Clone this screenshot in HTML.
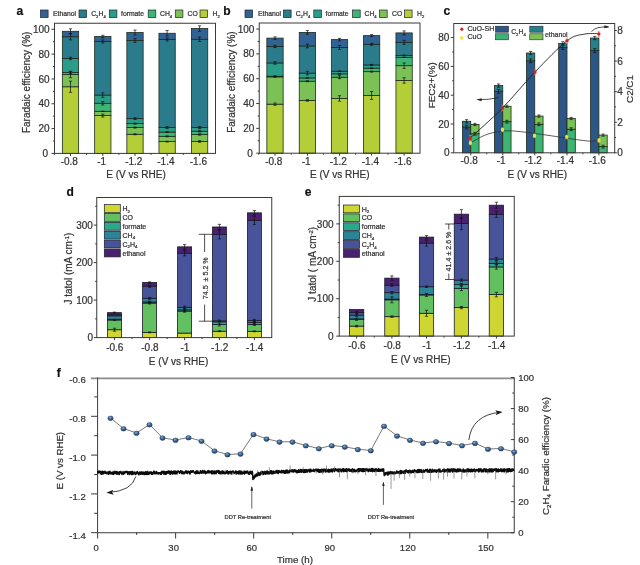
<!DOCTYPE html>
<html lang="en"><head><meta charset="utf-8"><title>Figure</title>
<style>
html,body{margin:0;padding:0;background:#fff;}
body{width:640px;height:565px;overflow:hidden;font-family:'Liberation Sans', Arial, sans-serif;}
svg{display:block;}
svg text{font-family:"Liberation Sans", Arial, sans-serif;stroke:#333;stroke-width:0.22px;paint-order:stroke;}
svg{filter:blur(0.4px);}
</style></head><body>
<svg width="640" height="565" viewBox="0 0 640 565">
<rect width="640" height="565" fill="#ffffff"/>
<rect x="62.35" y="86.76" width="16.30" height="66.64" fill="#b4ce38" stroke="#1d2b1d" stroke-width="0.8"/>
<rect x="62.35" y="74.60" width="16.30" height="12.16" fill="#7bc155" stroke="#1d2b1d" stroke-width="0.8"/>
<rect x="62.35" y="72.49" width="16.30" height="2.11" fill="#3fb574" stroke="#1d2b1d" stroke-width="0.8"/>
<rect x="62.35" y="58.46" width="16.30" height="14.02" fill="#2a9d89" stroke="#1d2b1d" stroke-width="0.8"/>
<rect x="62.35" y="36.75" width="16.30" height="21.72" fill="#2a7b8c" stroke="#1d2b1d" stroke-width="0.8"/>
<rect x="62.35" y="31.29" width="16.30" height="5.46" fill="#316294" stroke="#1d2b1d" stroke-width="0.8"/>
<line x1="70.50" y1="81.17" x2="70.50" y2="92.34" stroke="#111" stroke-width="0.7" />
<line x1="68.90" y1="81.17" x2="72.10" y2="81.17" stroke="#111" stroke-width="0.7" />
<line x1="68.90" y1="92.34" x2="72.10" y2="92.34" stroke="#111" stroke-width="0.7" />
<line x1="70.50" y1="71.49" x2="70.50" y2="77.70" stroke="#111" stroke-width="0.7" />
<line x1="68.90" y1="71.49" x2="72.10" y2="71.49" stroke="#111" stroke-width="0.7" />
<line x1="68.90" y1="77.70" x2="72.10" y2="77.70" stroke="#111" stroke-width="0.7" />
<line x1="70.50" y1="71.25" x2="70.50" y2="73.73" stroke="#111" stroke-width="0.7" />
<line x1="68.90" y1="71.25" x2="72.10" y2="71.25" stroke="#111" stroke-width="0.7" />
<line x1="68.90" y1="73.73" x2="72.10" y2="73.73" stroke="#111" stroke-width="0.7" />
<line x1="70.50" y1="57.22" x2="70.50" y2="59.70" stroke="#111" stroke-width="0.7" />
<line x1="68.90" y1="57.22" x2="72.10" y2="57.22" stroke="#111" stroke-width="0.7" />
<line x1="68.90" y1="59.70" x2="72.10" y2="59.70" stroke="#111" stroke-width="0.7" />
<line x1="70.50" y1="33.64" x2="70.50" y2="39.85" stroke="#111" stroke-width="0.7" />
<line x1="68.90" y1="33.64" x2="72.10" y2="33.64" stroke="#111" stroke-width="0.7" />
<line x1="68.90" y1="39.85" x2="72.10" y2="39.85" stroke="#111" stroke-width="0.7" />
<line x1="70.50" y1="28.80" x2="70.50" y2="33.77" stroke="#111" stroke-width="0.7" />
<line x1="68.90" y1="28.80" x2="72.10" y2="28.80" stroke="#111" stroke-width="0.7" />
<line x1="68.90" y1="33.77" x2="72.10" y2="33.77" stroke="#111" stroke-width="0.7" />
<rect x="94.65" y="115.55" width="16.30" height="37.85" fill="#b4ce38" stroke="#1d2b1d" stroke-width="0.8"/>
<rect x="94.65" y="111.33" width="16.30" height="4.22" fill="#7bc155" stroke="#1d2b1d" stroke-width="0.8"/>
<rect x="94.65" y="103.26" width="16.30" height="8.07" fill="#3fb574" stroke="#1d2b1d" stroke-width="0.8"/>
<rect x="94.65" y="95.07" width="16.30" height="8.19" fill="#2a9d89" stroke="#1d2b1d" stroke-width="0.8"/>
<rect x="94.65" y="41.46" width="16.30" height="53.61" fill="#2a7b8c" stroke="#1d2b1d" stroke-width="0.8"/>
<rect x="94.65" y="36.50" width="16.30" height="4.96" fill="#316294" stroke="#1d2b1d" stroke-width="0.8"/>
<line x1="102.80" y1="114.06" x2="102.80" y2="117.04" stroke="#111" stroke-width="0.7" />
<line x1="101.20" y1="114.06" x2="104.40" y2="114.06" stroke="#111" stroke-width="0.7" />
<line x1="101.20" y1="117.04" x2="104.40" y2="117.04" stroke="#111" stroke-width="0.7" />
<line x1="102.80" y1="111.33" x2="102.80" y2="111.33" stroke="#111" stroke-width="0.7" />
<line x1="101.20" y1="111.33" x2="104.40" y2="111.33" stroke="#111" stroke-width="0.7" />
<line x1="101.20" y1="111.33" x2="104.40" y2="111.33" stroke="#111" stroke-width="0.7" />
<line x1="102.80" y1="101.53" x2="102.80" y2="105.00" stroke="#111" stroke-width="0.7" />
<line x1="101.20" y1="101.53" x2="104.40" y2="101.53" stroke="#111" stroke-width="0.7" />
<line x1="101.20" y1="105.00" x2="104.40" y2="105.00" stroke="#111" stroke-width="0.7" />
<line x1="102.80" y1="92.84" x2="102.80" y2="97.31" stroke="#111" stroke-width="0.7" />
<line x1="101.20" y1="92.84" x2="104.40" y2="92.84" stroke="#111" stroke-width="0.7" />
<line x1="101.20" y1="97.31" x2="104.40" y2="97.31" stroke="#111" stroke-width="0.7" />
<line x1="102.80" y1="39.97" x2="102.80" y2="42.95" stroke="#111" stroke-width="0.7" />
<line x1="101.20" y1="39.97" x2="104.40" y2="39.97" stroke="#111" stroke-width="0.7" />
<line x1="101.20" y1="42.95" x2="104.40" y2="42.95" stroke="#111" stroke-width="0.7" />
<line x1="102.80" y1="35.26" x2="102.80" y2="37.74" stroke="#111" stroke-width="0.7" />
<line x1="101.20" y1="35.26" x2="104.40" y2="35.26" stroke="#111" stroke-width="0.7" />
<line x1="101.20" y1="37.74" x2="104.40" y2="37.74" stroke="#111" stroke-width="0.7" />
<rect x="126.85" y="134.29" width="16.30" height="19.11" fill="#b4ce38" stroke="#1d2b1d" stroke-width="0.8"/>
<rect x="126.85" y="127.59" width="16.30" height="6.70" fill="#7bc155" stroke="#1d2b1d" stroke-width="0.8"/>
<rect x="126.85" y="123.62" width="16.30" height="3.97" fill="#3fb574" stroke="#1d2b1d" stroke-width="0.8"/>
<rect x="126.85" y="118.65" width="16.30" height="4.96" fill="#2a9d89" stroke="#1d2b1d" stroke-width="0.8"/>
<rect x="126.85" y="40.47" width="16.30" height="78.18" fill="#2a7b8c" stroke="#1d2b1d" stroke-width="0.8"/>
<rect x="126.85" y="32.53" width="16.30" height="7.94" fill="#316294" stroke="#1d2b1d" stroke-width="0.8"/>
<line x1="135.00" y1="133.79" x2="135.00" y2="134.78" stroke="#111" stroke-width="0.7" />
<line x1="133.40" y1="133.79" x2="136.60" y2="133.79" stroke="#111" stroke-width="0.7" />
<line x1="133.40" y1="134.78" x2="136.60" y2="134.78" stroke="#111" stroke-width="0.7" />
<line x1="135.00" y1="127.09" x2="135.00" y2="128.08" stroke="#111" stroke-width="0.7" />
<line x1="133.40" y1="127.09" x2="136.60" y2="127.09" stroke="#111" stroke-width="0.7" />
<line x1="133.40" y1="128.08" x2="136.60" y2="128.08" stroke="#111" stroke-width="0.7" />
<line x1="135.00" y1="123.12" x2="135.00" y2="124.11" stroke="#111" stroke-width="0.7" />
<line x1="133.40" y1="123.12" x2="136.60" y2="123.12" stroke="#111" stroke-width="0.7" />
<line x1="133.40" y1="124.11" x2="136.60" y2="124.11" stroke="#111" stroke-width="0.7" />
<line x1="135.00" y1="117.78" x2="135.00" y2="119.52" stroke="#111" stroke-width="0.7" />
<line x1="133.40" y1="117.78" x2="136.60" y2="117.78" stroke="#111" stroke-width="0.7" />
<line x1="133.40" y1="119.52" x2="136.60" y2="119.52" stroke="#111" stroke-width="0.7" />
<line x1="135.00" y1="38.61" x2="135.00" y2="42.33" stroke="#111" stroke-width="0.7" />
<line x1="133.40" y1="38.61" x2="136.60" y2="38.61" stroke="#111" stroke-width="0.7" />
<line x1="133.40" y1="42.33" x2="136.60" y2="42.33" stroke="#111" stroke-width="0.7" />
<line x1="135.00" y1="30.04" x2="135.00" y2="35.01" stroke="#111" stroke-width="0.7" />
<line x1="133.40" y1="30.04" x2="136.60" y2="30.04" stroke="#111" stroke-width="0.7" />
<line x1="133.40" y1="35.01" x2="136.60" y2="35.01" stroke="#111" stroke-width="0.7" />
<rect x="158.95" y="141.61" width="16.30" height="11.79" fill="#b4ce38" stroke="#1d2b1d" stroke-width="0.8"/>
<rect x="158.95" y="136.34" width="16.30" height="5.27" fill="#7bc155" stroke="#1d2b1d" stroke-width="0.8"/>
<rect x="158.95" y="132.05" width="16.30" height="4.28" fill="#3fb574" stroke="#1d2b1d" stroke-width="0.8"/>
<rect x="158.95" y="127.59" width="16.30" height="4.47" fill="#2a9d89" stroke="#1d2b1d" stroke-width="0.8"/>
<rect x="158.95" y="39.48" width="16.30" height="88.11" fill="#2a7b8c" stroke="#1d2b1d" stroke-width="0.8"/>
<rect x="158.95" y="33.27" width="16.30" height="6.21" fill="#316294" stroke="#1d2b1d" stroke-width="0.8"/>
<line x1="167.10" y1="141.24" x2="167.10" y2="141.98" stroke="#111" stroke-width="0.7" />
<line x1="165.50" y1="141.24" x2="168.70" y2="141.24" stroke="#111" stroke-width="0.7" />
<line x1="165.50" y1="141.98" x2="168.70" y2="141.98" stroke="#111" stroke-width="0.7" />
<line x1="167.10" y1="135.84" x2="167.10" y2="136.83" stroke="#111" stroke-width="0.7" />
<line x1="165.50" y1="135.84" x2="168.70" y2="135.84" stroke="#111" stroke-width="0.7" />
<line x1="165.50" y1="136.83" x2="168.70" y2="136.83" stroke="#111" stroke-width="0.7" />
<line x1="167.10" y1="131.56" x2="167.10" y2="132.55" stroke="#111" stroke-width="0.7" />
<line x1="165.50" y1="131.56" x2="168.70" y2="131.56" stroke="#111" stroke-width="0.7" />
<line x1="165.50" y1="132.55" x2="168.70" y2="132.55" stroke="#111" stroke-width="0.7" />
<line x1="167.10" y1="126.59" x2="167.10" y2="128.58" stroke="#111" stroke-width="0.7" />
<line x1="165.50" y1="126.59" x2="168.70" y2="126.59" stroke="#111" stroke-width="0.7" />
<line x1="165.50" y1="128.58" x2="168.70" y2="128.58" stroke="#111" stroke-width="0.7" />
<line x1="167.10" y1="37.99" x2="167.10" y2="40.97" stroke="#111" stroke-width="0.7" />
<line x1="165.50" y1="37.99" x2="168.70" y2="37.99" stroke="#111" stroke-width="0.7" />
<line x1="165.50" y1="40.97" x2="168.70" y2="40.97" stroke="#111" stroke-width="0.7" />
<line x1="167.10" y1="30.54" x2="167.10" y2="36.00" stroke="#111" stroke-width="0.7" />
<line x1="165.50" y1="30.54" x2="168.70" y2="30.54" stroke="#111" stroke-width="0.7" />
<line x1="165.50" y1="36.00" x2="168.70" y2="36.00" stroke="#111" stroke-width="0.7" />
<rect x="191.45" y="141.49" width="16.30" height="11.91" fill="#b4ce38" stroke="#1d2b1d" stroke-width="0.8"/>
<rect x="191.45" y="134.54" width="16.30" height="6.95" fill="#7bc155" stroke="#1d2b1d" stroke-width="0.8"/>
<rect x="191.45" y="131.31" width="16.30" height="3.23" fill="#3fb574" stroke="#1d2b1d" stroke-width="0.8"/>
<rect x="191.45" y="127.59" width="16.30" height="3.72" fill="#2a9d89" stroke="#1d2b1d" stroke-width="0.8"/>
<rect x="191.45" y="39.23" width="16.30" height="88.36" fill="#2a7b8c" stroke="#1d2b1d" stroke-width="0.8"/>
<rect x="191.45" y="28.56" width="16.30" height="10.67" fill="#316294" stroke="#1d2b1d" stroke-width="0.8"/>
<line x1="199.60" y1="140.74" x2="199.60" y2="142.23" stroke="#111" stroke-width="0.7" />
<line x1="198.00" y1="140.74" x2="201.20" y2="140.74" stroke="#111" stroke-width="0.7" />
<line x1="198.00" y1="142.23" x2="201.20" y2="142.23" stroke="#111" stroke-width="0.7" />
<line x1="199.60" y1="133.92" x2="199.60" y2="135.16" stroke="#111" stroke-width="0.7" />
<line x1="198.00" y1="133.92" x2="201.20" y2="133.92" stroke="#111" stroke-width="0.7" />
<line x1="198.00" y1="135.16" x2="201.20" y2="135.16" stroke="#111" stroke-width="0.7" />
<line x1="199.60" y1="130.69" x2="199.60" y2="131.93" stroke="#111" stroke-width="0.7" />
<line x1="198.00" y1="130.69" x2="201.20" y2="130.69" stroke="#111" stroke-width="0.7" />
<line x1="198.00" y1="131.93" x2="201.20" y2="131.93" stroke="#111" stroke-width="0.7" />
<line x1="199.60" y1="126.59" x2="199.60" y2="128.58" stroke="#111" stroke-width="0.7" />
<line x1="198.00" y1="126.59" x2="201.20" y2="126.59" stroke="#111" stroke-width="0.7" />
<line x1="198.00" y1="128.58" x2="201.20" y2="128.58" stroke="#111" stroke-width="0.7" />
<line x1="199.60" y1="36.99" x2="199.60" y2="41.46" stroke="#111" stroke-width="0.7" />
<line x1="198.00" y1="36.99" x2="201.20" y2="36.99" stroke="#111" stroke-width="0.7" />
<line x1="198.00" y1="41.46" x2="201.20" y2="41.46" stroke="#111" stroke-width="0.7" />
<line x1="199.60" y1="25.83" x2="199.60" y2="31.29" stroke="#111" stroke-width="0.7" />
<line x1="198.00" y1="25.83" x2="201.20" y2="25.83" stroke="#111" stroke-width="0.7" />
<line x1="198.00" y1="31.29" x2="201.20" y2="31.29" stroke="#111" stroke-width="0.7" />
<rect x="54.50" y="23.25" width="161.00" height="130.15" fill="none" stroke="#3a3a3a" stroke-width="1"/>
<line x1="51.50" y1="153.40" x2="54.50" y2="153.40" stroke="#3a3a3a" stroke-width="1" />
<text x="48.10" y="157.00" font-size="10" text-anchor="end" font-weight="normal" fill="#333333" >0</text>
<line x1="52.90" y1="140.99" x2="54.50" y2="140.99" stroke="#3a3a3a" stroke-width="1" />
<line x1="51.50" y1="128.58" x2="54.50" y2="128.58" stroke="#3a3a3a" stroke-width="1" />
<text x="49.70" y="132.18" font-size="10" text-anchor="end" font-weight="normal" fill="#333333" >20</text>
<line x1="52.90" y1="116.17" x2="54.50" y2="116.17" stroke="#3a3a3a" stroke-width="1" />
<line x1="51.50" y1="103.76" x2="54.50" y2="103.76" stroke="#3a3a3a" stroke-width="1" />
<text x="49.70" y="107.36" font-size="10" text-anchor="end" font-weight="normal" fill="#333333" >40</text>
<line x1="52.90" y1="91.35" x2="54.50" y2="91.35" stroke="#3a3a3a" stroke-width="1" />
<line x1="51.50" y1="78.94" x2="54.50" y2="78.94" stroke="#3a3a3a" stroke-width="1" />
<text x="49.70" y="82.54" font-size="10" text-anchor="end" font-weight="normal" fill="#333333" >60</text>
<line x1="52.90" y1="66.53" x2="54.50" y2="66.53" stroke="#3a3a3a" stroke-width="1" />
<line x1="51.50" y1="54.12" x2="54.50" y2="54.12" stroke="#3a3a3a" stroke-width="1" />
<text x="49.70" y="57.72" font-size="10" text-anchor="end" font-weight="normal" fill="#333333" >80</text>
<line x1="52.90" y1="41.71" x2="54.50" y2="41.71" stroke="#3a3a3a" stroke-width="1" />
<line x1="51.50" y1="29.30" x2="54.50" y2="29.30" stroke="#3a3a3a" stroke-width="1" />
<text x="49.70" y="32.90" font-size="10" text-anchor="end" font-weight="normal" fill="#333333" >100</text>
<line x1="70.50" y1="153.40" x2="70.50" y2="155.90" stroke="#3a3a3a" stroke-width="1" />
<text x="69.30" y="165.00" font-size="10" text-anchor="middle" font-weight="normal" fill="#333333" >-0.8</text>
<line x1="86.65" y1="153.40" x2="86.65" y2="154.90" stroke="#3a3a3a" stroke-width="1" />
<line x1="102.80" y1="153.40" x2="102.80" y2="155.90" stroke="#3a3a3a" stroke-width="1" />
<text x="101.60" y="165.00" font-size="10" text-anchor="middle" font-weight="normal" fill="#333333" >-1</text>
<line x1="118.90" y1="153.40" x2="118.90" y2="154.90" stroke="#3a3a3a" stroke-width="1" />
<line x1="135.00" y1="153.40" x2="135.00" y2="155.90" stroke="#3a3a3a" stroke-width="1" />
<text x="133.80" y="165.00" font-size="10" text-anchor="middle" font-weight="normal" fill="#333333" >-1.2</text>
<line x1="151.05" y1="153.40" x2="151.05" y2="154.90" stroke="#3a3a3a" stroke-width="1" />
<line x1="167.10" y1="153.40" x2="167.10" y2="155.90" stroke="#3a3a3a" stroke-width="1" />
<text x="165.90" y="165.00" font-size="10" text-anchor="middle" font-weight="normal" fill="#333333" >-1.4</text>
<line x1="183.35" y1="153.40" x2="183.35" y2="154.90" stroke="#3a3a3a" stroke-width="1" />
<line x1="199.60" y1="153.40" x2="199.60" y2="155.90" stroke="#3a3a3a" stroke-width="1" />
<text x="198.40" y="165.00" font-size="10" text-anchor="middle" font-weight="normal" fill="#333333" >-1.6</text>
<line x1="54.35" y1="153.40" x2="54.35" y2="154.90" stroke="#3a3a3a" stroke-width="1" />
<text x="136.00" y="178.10" font-size="10" text-anchor="middle" font-weight="normal" fill="#333333" >E (V vs RHE)</text>
<text x="30.10" y="82.33" font-size="10" text-anchor="middle" font-weight="normal" fill="#333333" transform="rotate(-90 30.10 82.33)" >Faradaic efficiency (%)</text>
<text x="16.50" y="14.75" font-size="12" text-anchor="start" font-weight="bold" fill="#111" >a</text>
<rect x="40.50" y="10.00" width="7.60" height="7.60" fill="#316294" stroke="#223" stroke-width="0.7"/>
<text x="53.00" y="16.30" font-size="6.8" text-anchor="start" font-weight="normal" fill="#333333" >Ethanol</text>
<rect x="79.00" y="10.00" width="7.60" height="7.60" fill="#2a7b8c" stroke="#223" stroke-width="0.7"/>
<text x="91.20" y="16.30" font-size="6.8" text-anchor="start" font-weight="normal" fill="#333333" >C<tspan dy="1.6" font-size="62%">2</tspan><tspan dy="-1.6">&#8203;</tspan>H<tspan dy="1.6" font-size="62%">4</tspan><tspan dy="-1.6">&#8203;</tspan></text>
<rect x="109.30" y="10.00" width="7.60" height="7.60" fill="#2a9d89" stroke="#223" stroke-width="0.7"/>
<text x="121.00" y="16.30" font-size="6.8" text-anchor="start" font-weight="normal" fill="#333333" >formate</text>
<rect x="148.20" y="10.00" width="7.60" height="7.60" fill="#3fb574" stroke="#223" stroke-width="0.7"/>
<text x="160.00" y="16.30" font-size="6.8" text-anchor="start" font-weight="normal" fill="#333333" >CH<tspan dy="1.6" font-size="62%">4</tspan><tspan dy="-1.6">&#8203;</tspan></text>
<rect x="175.30" y="10.00" width="7.60" height="7.60" fill="#7bc155" stroke="#223" stroke-width="0.7"/>
<text x="187.50" y="16.30" font-size="6.8" text-anchor="start" font-weight="normal" fill="#333333" >CO</text>
<rect x="200.00" y="10.00" width="7.60" height="7.60" fill="#b4ce38" stroke="#223" stroke-width="0.7"/>
<text x="212.50" y="16.30" font-size="6.8" text-anchor="start" font-weight="normal" fill="#333333" >H<tspan dy="1.6" font-size="62%">2</tspan><tspan dy="-1.6">&#8203;</tspan></text>
<rect x="266.85" y="104.16" width="16.30" height="49.04" fill="#b4ce38" stroke="#1d2b1d" stroke-width="0.8"/>
<rect x="266.85" y="76.85" width="16.30" height="27.31" fill="#7bc155" stroke="#1d2b1d" stroke-width="0.8"/>
<rect x="266.85" y="76.23" width="16.30" height="0.62" fill="#3fb574" stroke="#1d2b1d" stroke-width="0.8"/>
<rect x="266.85" y="62.94" width="16.30" height="13.28" fill="#2a9d89" stroke="#1d2b1d" stroke-width="0.8"/>
<rect x="266.85" y="46.43" width="16.30" height="16.51" fill="#2a7b8c" stroke="#1d2b1d" stroke-width="0.8"/>
<rect x="266.85" y="38.11" width="16.30" height="8.32" fill="#316294" stroke="#1d2b1d" stroke-width="0.8"/>
<line x1="275.00" y1="103.04" x2="275.00" y2="105.28" stroke="#111" stroke-width="0.7" />
<line x1="273.40" y1="103.04" x2="276.60" y2="103.04" stroke="#111" stroke-width="0.7" />
<line x1="273.40" y1="105.28" x2="276.60" y2="105.28" stroke="#111" stroke-width="0.7" />
<line x1="275.00" y1="76.48" x2="275.00" y2="77.22" stroke="#111" stroke-width="0.7" />
<line x1="273.40" y1="76.48" x2="276.60" y2="76.48" stroke="#111" stroke-width="0.7" />
<line x1="273.40" y1="77.22" x2="276.60" y2="77.22" stroke="#111" stroke-width="0.7" />
<line x1="275.00" y1="75.85" x2="275.00" y2="76.60" stroke="#111" stroke-width="0.7" />
<line x1="273.40" y1="75.85" x2="276.60" y2="75.85" stroke="#111" stroke-width="0.7" />
<line x1="273.40" y1="76.60" x2="276.60" y2="76.60" stroke="#111" stroke-width="0.7" />
<line x1="275.00" y1="61.70" x2="275.00" y2="64.18" stroke="#111" stroke-width="0.7" />
<line x1="273.40" y1="61.70" x2="276.60" y2="61.70" stroke="#111" stroke-width="0.7" />
<line x1="273.40" y1="64.18" x2="276.60" y2="64.18" stroke="#111" stroke-width="0.7" />
<line x1="275.00" y1="45.31" x2="275.00" y2="47.55" stroke="#111" stroke-width="0.7" />
<line x1="273.40" y1="45.31" x2="276.60" y2="45.31" stroke="#111" stroke-width="0.7" />
<line x1="273.40" y1="47.55" x2="276.60" y2="47.55" stroke="#111" stroke-width="0.7" />
<line x1="275.00" y1="36.87" x2="275.00" y2="39.35" stroke="#111" stroke-width="0.7" />
<line x1="273.40" y1="36.87" x2="276.60" y2="36.87" stroke="#111" stroke-width="0.7" />
<line x1="273.40" y1="39.35" x2="276.60" y2="39.35" stroke="#111" stroke-width="0.7" />
<rect x="299.25" y="100.44" width="16.30" height="52.76" fill="#b4ce38" stroke="#1d2b1d" stroke-width="0.8"/>
<rect x="299.25" y="81.19" width="16.30" height="19.24" fill="#7bc155" stroke="#1d2b1d" stroke-width="0.8"/>
<rect x="299.25" y="77.97" width="16.30" height="3.23" fill="#3fb574" stroke="#1d2b1d" stroke-width="0.8"/>
<rect x="299.25" y="73.12" width="16.30" height="4.84" fill="#2a9d89" stroke="#1d2b1d" stroke-width="0.8"/>
<rect x="299.25" y="45.93" width="16.30" height="27.19" fill="#2a7b8c" stroke="#1d2b1d" stroke-width="0.8"/>
<rect x="299.25" y="32.40" width="16.30" height="13.53" fill="#316294" stroke="#1d2b1d" stroke-width="0.8"/>
<line x1="307.40" y1="99.69" x2="307.40" y2="101.18" stroke="#111" stroke-width="0.7" />
<line x1="305.80" y1="99.69" x2="309.00" y2="99.69" stroke="#111" stroke-width="0.7" />
<line x1="305.80" y1="101.18" x2="309.00" y2="101.18" stroke="#111" stroke-width="0.7" />
<line x1="307.40" y1="80.70" x2="307.40" y2="81.69" stroke="#111" stroke-width="0.7" />
<line x1="305.80" y1="80.70" x2="309.00" y2="80.70" stroke="#111" stroke-width="0.7" />
<line x1="305.80" y1="81.69" x2="309.00" y2="81.69" stroke="#111" stroke-width="0.7" />
<line x1="307.40" y1="77.97" x2="307.40" y2="77.97" stroke="#111" stroke-width="0.7" />
<line x1="305.80" y1="77.97" x2="309.00" y2="77.97" stroke="#111" stroke-width="0.7" />
<line x1="305.80" y1="77.97" x2="309.00" y2="77.97" stroke="#111" stroke-width="0.7" />
<line x1="307.40" y1="71.39" x2="307.40" y2="74.86" stroke="#111" stroke-width="0.7" />
<line x1="305.80" y1="71.39" x2="309.00" y2="71.39" stroke="#111" stroke-width="0.7" />
<line x1="305.80" y1="74.86" x2="309.00" y2="74.86" stroke="#111" stroke-width="0.7" />
<line x1="307.40" y1="44.07" x2="307.40" y2="47.80" stroke="#111" stroke-width="0.7" />
<line x1="305.80" y1="44.07" x2="309.00" y2="44.07" stroke="#111" stroke-width="0.7" />
<line x1="305.80" y1="47.80" x2="309.00" y2="47.80" stroke="#111" stroke-width="0.7" />
<line x1="307.40" y1="30.54" x2="307.40" y2="34.26" stroke="#111" stroke-width="0.7" />
<line x1="305.80" y1="30.54" x2="309.00" y2="30.54" stroke="#111" stroke-width="0.7" />
<line x1="305.80" y1="34.26" x2="309.00" y2="34.26" stroke="#111" stroke-width="0.7" />
<rect x="331.35" y="98.45" width="16.30" height="54.75" fill="#b4ce38" stroke="#1d2b1d" stroke-width="0.8"/>
<rect x="331.35" y="77.22" width="16.30" height="21.23" fill="#7bc155" stroke="#1d2b1d" stroke-width="0.8"/>
<rect x="331.35" y="73.87" width="16.30" height="3.35" fill="#3fb574" stroke="#1d2b1d" stroke-width="0.8"/>
<rect x="331.35" y="71.26" width="16.30" height="2.61" fill="#2a9d89" stroke="#1d2b1d" stroke-width="0.8"/>
<rect x="331.35" y="47.42" width="16.30" height="23.84" fill="#2a7b8c" stroke="#1d2b1d" stroke-width="0.8"/>
<rect x="331.35" y="39.60" width="16.30" height="7.82" fill="#316294" stroke="#1d2b1d" stroke-width="0.8"/>
<line x1="339.50" y1="95.72" x2="339.50" y2="101.18" stroke="#111" stroke-width="0.7" />
<line x1="337.90" y1="95.72" x2="341.10" y2="95.72" stroke="#111" stroke-width="0.7" />
<line x1="337.90" y1="101.18" x2="341.10" y2="101.18" stroke="#111" stroke-width="0.7" />
<line x1="339.50" y1="75.73" x2="339.50" y2="78.71" stroke="#111" stroke-width="0.7" />
<line x1="337.90" y1="75.73" x2="341.10" y2="75.73" stroke="#111" stroke-width="0.7" />
<line x1="337.90" y1="78.71" x2="341.10" y2="78.71" stroke="#111" stroke-width="0.7" />
<line x1="339.50" y1="73.50" x2="339.50" y2="74.24" stroke="#111" stroke-width="0.7" />
<line x1="337.90" y1="73.50" x2="341.10" y2="73.50" stroke="#111" stroke-width="0.7" />
<line x1="337.90" y1="74.24" x2="341.10" y2="74.24" stroke="#111" stroke-width="0.7" />
<line x1="339.50" y1="70.89" x2="339.50" y2="71.63" stroke="#111" stroke-width="0.7" />
<line x1="337.90" y1="70.89" x2="341.10" y2="70.89" stroke="#111" stroke-width="0.7" />
<line x1="337.90" y1="71.63" x2="341.10" y2="71.63" stroke="#111" stroke-width="0.7" />
<line x1="339.50" y1="45.44" x2="339.50" y2="49.41" stroke="#111" stroke-width="0.7" />
<line x1="337.90" y1="45.44" x2="341.10" y2="45.44" stroke="#111" stroke-width="0.7" />
<line x1="337.90" y1="49.41" x2="341.10" y2="49.41" stroke="#111" stroke-width="0.7" />
<line x1="339.50" y1="38.36" x2="339.50" y2="40.84" stroke="#111" stroke-width="0.7" />
<line x1="337.90" y1="38.36" x2="341.10" y2="38.36" stroke="#111" stroke-width="0.7" />
<line x1="337.90" y1="40.84" x2="341.10" y2="40.84" stroke="#111" stroke-width="0.7" />
<rect x="363.45" y="95.47" width="16.30" height="57.73" fill="#b4ce38" stroke="#1d2b1d" stroke-width="0.8"/>
<rect x="363.45" y="71.63" width="16.30" height="23.84" fill="#7bc155" stroke="#1d2b1d" stroke-width="0.8"/>
<rect x="363.45" y="68.16" width="16.30" height="3.48" fill="#3fb574" stroke="#1d2b1d" stroke-width="0.8"/>
<rect x="363.45" y="64.93" width="16.30" height="3.23" fill="#2a9d89" stroke="#1d2b1d" stroke-width="0.8"/>
<rect x="363.45" y="44.32" width="16.30" height="20.61" fill="#2a7b8c" stroke="#1d2b1d" stroke-width="0.8"/>
<rect x="363.45" y="35.63" width="16.30" height="8.69" fill="#316294" stroke="#1d2b1d" stroke-width="0.8"/>
<line x1="371.60" y1="91.50" x2="371.60" y2="99.44" stroke="#111" stroke-width="0.7" />
<line x1="370.00" y1="91.50" x2="373.20" y2="91.50" stroke="#111" stroke-width="0.7" />
<line x1="370.00" y1="99.44" x2="373.20" y2="99.44" stroke="#111" stroke-width="0.7" />
<line x1="371.60" y1="71.14" x2="371.60" y2="72.13" stroke="#111" stroke-width="0.7" />
<line x1="370.00" y1="71.14" x2="373.20" y2="71.14" stroke="#111" stroke-width="0.7" />
<line x1="370.00" y1="72.13" x2="373.20" y2="72.13" stroke="#111" stroke-width="0.7" />
<line x1="371.60" y1="68.16" x2="371.60" y2="68.16" stroke="#111" stroke-width="0.7" />
<line x1="370.00" y1="68.16" x2="373.20" y2="68.16" stroke="#111" stroke-width="0.7" />
<line x1="370.00" y1="68.16" x2="373.20" y2="68.16" stroke="#111" stroke-width="0.7" />
<line x1="371.60" y1="64.43" x2="371.60" y2="65.43" stroke="#111" stroke-width="0.7" />
<line x1="370.00" y1="64.43" x2="373.20" y2="64.43" stroke="#111" stroke-width="0.7" />
<line x1="370.00" y1="65.43" x2="373.20" y2="65.43" stroke="#111" stroke-width="0.7" />
<line x1="371.60" y1="43.33" x2="371.60" y2="45.31" stroke="#111" stroke-width="0.7" />
<line x1="370.00" y1="43.33" x2="373.20" y2="43.33" stroke="#111" stroke-width="0.7" />
<line x1="370.00" y1="45.31" x2="373.20" y2="45.31" stroke="#111" stroke-width="0.7" />
<line x1="371.60" y1="34.64" x2="371.60" y2="36.62" stroke="#111" stroke-width="0.7" />
<line x1="370.00" y1="34.64" x2="373.20" y2="34.64" stroke="#111" stroke-width="0.7" />
<line x1="370.00" y1="36.62" x2="373.20" y2="36.62" stroke="#111" stroke-width="0.7" />
<rect x="395.95" y="80.45" width="16.30" height="72.75" fill="#b4ce38" stroke="#1d2b1d" stroke-width="0.8"/>
<rect x="395.95" y="65.67" width="16.30" height="14.77" fill="#7bc155" stroke="#1d2b1d" stroke-width="0.8"/>
<rect x="395.95" y="57.36" width="16.30" height="8.32" fill="#3fb574" stroke="#1d2b1d" stroke-width="0.8"/>
<rect x="395.95" y="55.37" width="16.30" height="1.99" fill="#2a9d89" stroke="#1d2b1d" stroke-width="0.8"/>
<rect x="395.95" y="42.33" width="16.30" height="13.04" fill="#2a7b8c" stroke="#1d2b1d" stroke-width="0.8"/>
<rect x="395.95" y="32.90" width="16.30" height="9.44" fill="#316294" stroke="#1d2b1d" stroke-width="0.8"/>
<line x1="404.10" y1="77.72" x2="404.10" y2="83.18" stroke="#111" stroke-width="0.7" />
<line x1="402.50" y1="77.72" x2="405.70" y2="77.72" stroke="#111" stroke-width="0.7" />
<line x1="402.50" y1="83.18" x2="405.70" y2="83.18" stroke="#111" stroke-width="0.7" />
<line x1="404.10" y1="62.94" x2="404.10" y2="68.41" stroke="#111" stroke-width="0.7" />
<line x1="402.50" y1="62.94" x2="405.70" y2="62.94" stroke="#111" stroke-width="0.7" />
<line x1="402.50" y1="68.41" x2="405.70" y2="68.41" stroke="#111" stroke-width="0.7" />
<line x1="404.10" y1="57.36" x2="404.10" y2="57.36" stroke="#111" stroke-width="0.7" />
<line x1="402.50" y1="57.36" x2="405.70" y2="57.36" stroke="#111" stroke-width="0.7" />
<line x1="402.50" y1="57.36" x2="405.70" y2="57.36" stroke="#111" stroke-width="0.7" />
<line x1="404.10" y1="55.00" x2="404.10" y2="55.74" stroke="#111" stroke-width="0.7" />
<line x1="402.50" y1="55.00" x2="405.70" y2="55.00" stroke="#111" stroke-width="0.7" />
<line x1="402.50" y1="55.74" x2="405.70" y2="55.74" stroke="#111" stroke-width="0.7" />
<line x1="404.10" y1="40.35" x2="404.10" y2="44.32" stroke="#111" stroke-width="0.7" />
<line x1="402.50" y1="40.35" x2="405.70" y2="40.35" stroke="#111" stroke-width="0.7" />
<line x1="402.50" y1="44.32" x2="405.70" y2="44.32" stroke="#111" stroke-width="0.7" />
<line x1="404.10" y1="30.91" x2="404.10" y2="34.89" stroke="#111" stroke-width="0.7" />
<line x1="402.50" y1="30.91" x2="405.70" y2="30.91" stroke="#111" stroke-width="0.7" />
<line x1="402.50" y1="34.89" x2="405.70" y2="34.89" stroke="#111" stroke-width="0.7" />
<rect x="259.25" y="23.00" width="160.75" height="130.20" fill="none" stroke="#3a3a3a" stroke-width="1"/>
<line x1="256.25" y1="153.20" x2="259.25" y2="153.20" stroke="#3a3a3a" stroke-width="1" />
<text x="252.85" y="156.80" font-size="10" text-anchor="end" font-weight="normal" fill="#333333" >0</text>
<line x1="257.65" y1="140.78" x2="259.25" y2="140.78" stroke="#3a3a3a" stroke-width="1" />
<line x1="256.25" y1="128.37" x2="259.25" y2="128.37" stroke="#3a3a3a" stroke-width="1" />
<text x="254.45" y="131.97" font-size="10" text-anchor="end" font-weight="normal" fill="#333333" >20</text>
<line x1="257.65" y1="115.95" x2="259.25" y2="115.95" stroke="#3a3a3a" stroke-width="1" />
<line x1="256.25" y1="103.54" x2="259.25" y2="103.54" stroke="#3a3a3a" stroke-width="1" />
<text x="254.45" y="107.14" font-size="10" text-anchor="end" font-weight="normal" fill="#333333" >40</text>
<line x1="257.65" y1="91.12" x2="259.25" y2="91.12" stroke="#3a3a3a" stroke-width="1" />
<line x1="256.25" y1="78.71" x2="259.25" y2="78.71" stroke="#3a3a3a" stroke-width="1" />
<text x="254.45" y="82.31" font-size="10" text-anchor="end" font-weight="normal" fill="#333333" >60</text>
<line x1="257.65" y1="66.30" x2="259.25" y2="66.30" stroke="#3a3a3a" stroke-width="1" />
<line x1="256.25" y1="53.88" x2="259.25" y2="53.88" stroke="#3a3a3a" stroke-width="1" />
<text x="254.45" y="57.48" font-size="10" text-anchor="end" font-weight="normal" fill="#333333" >80</text>
<line x1="257.65" y1="41.47" x2="259.25" y2="41.47" stroke="#3a3a3a" stroke-width="1" />
<line x1="256.25" y1="29.05" x2="259.25" y2="29.05" stroke="#3a3a3a" stroke-width="1" />
<text x="254.45" y="32.65" font-size="10" text-anchor="end" font-weight="normal" fill="#333333" >100</text>
<line x1="275.00" y1="153.20" x2="275.00" y2="155.70" stroke="#3a3a3a" stroke-width="1" />
<text x="273.80" y="164.80" font-size="10" text-anchor="middle" font-weight="normal" fill="#333333" >-0.8</text>
<line x1="291.20" y1="153.20" x2="291.20" y2="154.70" stroke="#3a3a3a" stroke-width="1" />
<line x1="307.40" y1="153.20" x2="307.40" y2="155.70" stroke="#3a3a3a" stroke-width="1" />
<text x="306.20" y="164.80" font-size="10" text-anchor="middle" font-weight="normal" fill="#333333" >-1</text>
<line x1="323.45" y1="153.20" x2="323.45" y2="154.70" stroke="#3a3a3a" stroke-width="1" />
<line x1="339.50" y1="153.20" x2="339.50" y2="155.70" stroke="#3a3a3a" stroke-width="1" />
<text x="338.30" y="164.80" font-size="10" text-anchor="middle" font-weight="normal" fill="#333333" >-1.2</text>
<line x1="355.55" y1="153.20" x2="355.55" y2="154.70" stroke="#3a3a3a" stroke-width="1" />
<line x1="371.60" y1="153.20" x2="371.60" y2="155.70" stroke="#3a3a3a" stroke-width="1" />
<text x="370.40" y="164.80" font-size="10" text-anchor="middle" font-weight="normal" fill="#333333" >-1.4</text>
<line x1="387.85" y1="153.20" x2="387.85" y2="154.70" stroke="#3a3a3a" stroke-width="1" />
<line x1="404.10" y1="153.20" x2="404.10" y2="155.70" stroke="#3a3a3a" stroke-width="1" />
<text x="402.90" y="164.80" font-size="10" text-anchor="middle" font-weight="normal" fill="#333333" >-1.6</text>
<line x1="258.80" y1="153.20" x2="258.80" y2="154.70" stroke="#3a3a3a" stroke-width="1" />
<text x="339.80" y="177.90" font-size="10" text-anchor="middle" font-weight="normal" fill="#333333" >E (V vs RHE)</text>
<text x="234.85" y="82.10" font-size="10" text-anchor="middle" font-weight="normal" fill="#333333" transform="rotate(-90 234.85 82.10)" >Faradaic efficiency (%)</text>
<text x="223.30" y="14.75" font-size="12" text-anchor="start" font-weight="bold" fill="#111" >b</text>
<rect x="245.00" y="10.00" width="7.60" height="7.60" fill="#316294" stroke="#223" stroke-width="0.7"/>
<text x="258.00" y="16.30" font-size="6.8" text-anchor="start" font-weight="normal" fill="#333333" >Ethanol</text>
<rect x="283.50" y="10.00" width="7.60" height="7.60" fill="#2a7b8c" stroke="#223" stroke-width="0.7"/>
<text x="295.70" y="16.30" font-size="6.8" text-anchor="start" font-weight="normal" fill="#333333" >C<tspan dy="1.6" font-size="62%">2</tspan><tspan dy="-1.6">&#8203;</tspan>H<tspan dy="1.6" font-size="62%">4</tspan><tspan dy="-1.6">&#8203;</tspan></text>
<rect x="313.80" y="10.00" width="7.60" height="7.60" fill="#2a9d89" stroke="#223" stroke-width="0.7"/>
<text x="325.50" y="16.30" font-size="6.8" text-anchor="start" font-weight="normal" fill="#333333" >formate</text>
<rect x="352.60" y="10.00" width="7.60" height="7.60" fill="#3fb574" stroke="#223" stroke-width="0.7"/>
<text x="364.50" y="16.30" font-size="6.8" text-anchor="start" font-weight="normal" fill="#333333" >CH<tspan dy="1.6" font-size="62%">4</tspan><tspan dy="-1.6">&#8203;</tspan></text>
<rect x="379.60" y="10.00" width="7.60" height="7.60" fill="#7bc155" stroke="#223" stroke-width="0.7"/>
<text x="392.00" y="16.30" font-size="6.8" text-anchor="start" font-weight="normal" fill="#333333" >CO</text>
<rect x="404.50" y="10.00" width="7.60" height="7.60" fill="#b4ce38" stroke="#223" stroke-width="0.7"/>
<text x="417.00" y="16.30" font-size="6.8" text-anchor="start" font-weight="normal" fill="#333333" >H<tspan dy="1.6" font-size="62%">2</tspan><tspan dy="-1.6">&#8203;</tspan></text>
<rect x="462.45" y="127.02" width="8.30" height="25.78" fill="#2c5686" stroke="#1d2b1d" stroke-width="0.8"/>
<rect x="462.45" y="121.26" width="8.30" height="5.76" fill="#26808a" stroke="#1d2b1d" stroke-width="0.8"/>
<rect x="470.75" y="133.79" width="8.30" height="19.01" fill="#3db471" stroke="#1d2b1d" stroke-width="0.8"/>
<rect x="470.75" y="124.43" width="8.30" height="9.36" fill="#7cc355" stroke="#1d2b1d" stroke-width="0.8"/>
<line x1="466.60" y1="125.12" x2="466.60" y2="128.92" stroke="#111" stroke-width="0.7" />
<line x1="465.00" y1="125.12" x2="468.20" y2="125.12" stroke="#111" stroke-width="0.7" />
<line x1="465.00" y1="128.92" x2="468.20" y2="128.92" stroke="#111" stroke-width="0.7" />
<line x1="466.60" y1="119.66" x2="466.60" y2="122.86" stroke="#111" stroke-width="0.7" />
<line x1="465.00" y1="119.66" x2="468.20" y2="119.66" stroke="#111" stroke-width="0.7" />
<line x1="465.00" y1="122.86" x2="468.20" y2="122.86" stroke="#111" stroke-width="0.7" />
<line x1="474.90" y1="132.39" x2="474.90" y2="135.19" stroke="#111" stroke-width="0.7" />
<line x1="473.30" y1="132.39" x2="476.50" y2="132.39" stroke="#111" stroke-width="0.7" />
<line x1="473.30" y1="135.19" x2="476.50" y2="135.19" stroke="#111" stroke-width="0.7" />
<line x1="474.90" y1="123.33" x2="474.90" y2="125.53" stroke="#111" stroke-width="0.7" />
<line x1="473.30" y1="123.33" x2="476.50" y2="123.33" stroke="#111" stroke-width="0.7" />
<line x1="473.30" y1="125.53" x2="476.50" y2="125.53" stroke="#111" stroke-width="0.7" />
<rect x="494.45" y="91.31" width="8.30" height="61.49" fill="#2c5686" stroke="#1d2b1d" stroke-width="0.8"/>
<rect x="494.45" y="85.55" width="8.30" height="5.76" fill="#26808a" stroke="#1d2b1d" stroke-width="0.8"/>
<rect x="502.75" y="121.70" width="8.30" height="31.10" fill="#3db471" stroke="#1d2b1d" stroke-width="0.8"/>
<rect x="502.75" y="106.29" width="8.30" height="15.41" fill="#7cc355" stroke="#1d2b1d" stroke-width="0.8"/>
<line x1="498.60" y1="89.41" x2="498.60" y2="93.21" stroke="#111" stroke-width="0.7" />
<line x1="497.00" y1="89.41" x2="500.20" y2="89.41" stroke="#111" stroke-width="0.7" />
<line x1="497.00" y1="93.21" x2="500.20" y2="93.21" stroke="#111" stroke-width="0.7" />
<line x1="498.60" y1="83.95" x2="498.60" y2="87.15" stroke="#111" stroke-width="0.7" />
<line x1="497.00" y1="83.95" x2="500.20" y2="83.95" stroke="#111" stroke-width="0.7" />
<line x1="497.00" y1="87.15" x2="500.20" y2="87.15" stroke="#111" stroke-width="0.7" />
<line x1="506.90" y1="120.30" x2="506.90" y2="123.10" stroke="#111" stroke-width="0.7" />
<line x1="505.30" y1="120.30" x2="508.50" y2="120.30" stroke="#111" stroke-width="0.7" />
<line x1="505.30" y1="123.10" x2="508.50" y2="123.10" stroke="#111" stroke-width="0.7" />
<line x1="506.90" y1="105.19" x2="506.90" y2="107.39" stroke="#111" stroke-width="0.7" />
<line x1="505.30" y1="105.19" x2="508.50" y2="105.19" stroke="#111" stroke-width="0.7" />
<line x1="505.30" y1="107.39" x2="508.50" y2="107.39" stroke="#111" stroke-width="0.7" />
<rect x="526.45" y="60.78" width="8.30" height="92.02" fill="#2c5686" stroke="#1d2b1d" stroke-width="0.8"/>
<rect x="526.45" y="53.01" width="8.30" height="7.78" fill="#26808a" stroke="#1d2b1d" stroke-width="0.8"/>
<rect x="534.75" y="124.29" width="8.30" height="28.51" fill="#3db471" stroke="#1d2b1d" stroke-width="0.8"/>
<rect x="534.75" y="116.08" width="8.30" height="8.21" fill="#7cc355" stroke="#1d2b1d" stroke-width="0.8"/>
<line x1="530.60" y1="58.88" x2="530.60" y2="62.68" stroke="#111" stroke-width="0.7" />
<line x1="529.00" y1="58.88" x2="532.20" y2="58.88" stroke="#111" stroke-width="0.7" />
<line x1="529.00" y1="62.68" x2="532.20" y2="62.68" stroke="#111" stroke-width="0.7" />
<line x1="530.60" y1="51.41" x2="530.60" y2="54.61" stroke="#111" stroke-width="0.7" />
<line x1="529.00" y1="51.41" x2="532.20" y2="51.41" stroke="#111" stroke-width="0.7" />
<line x1="529.00" y1="54.61" x2="532.20" y2="54.61" stroke="#111" stroke-width="0.7" />
<line x1="538.90" y1="122.89" x2="538.90" y2="125.69" stroke="#111" stroke-width="0.7" />
<line x1="537.30" y1="122.89" x2="540.50" y2="122.89" stroke="#111" stroke-width="0.7" />
<line x1="537.30" y1="125.69" x2="540.50" y2="125.69" stroke="#111" stroke-width="0.7" />
<line x1="538.90" y1="114.98" x2="538.90" y2="117.18" stroke="#111" stroke-width="0.7" />
<line x1="537.30" y1="114.98" x2="540.50" y2="114.98" stroke="#111" stroke-width="0.7" />
<line x1="537.30" y1="117.18" x2="540.50" y2="117.18" stroke="#111" stroke-width="0.7" />
<rect x="558.70" y="47.54" width="8.30" height="105.26" fill="#2c5686" stroke="#1d2b1d" stroke-width="0.8"/>
<rect x="558.70" y="43.36" width="8.30" height="4.18" fill="#26808a" stroke="#1d2b1d" stroke-width="0.8"/>
<rect x="567.00" y="129.18" width="8.30" height="23.62" fill="#3db471" stroke="#1d2b1d" stroke-width="0.8"/>
<rect x="567.00" y="118.53" width="8.30" height="10.66" fill="#7cc355" stroke="#1d2b1d" stroke-width="0.8"/>
<line x1="562.85" y1="45.64" x2="562.85" y2="49.44" stroke="#111" stroke-width="0.7" />
<line x1="561.25" y1="45.64" x2="564.45" y2="45.64" stroke="#111" stroke-width="0.7" />
<line x1="561.25" y1="49.44" x2="564.45" y2="49.44" stroke="#111" stroke-width="0.7" />
<line x1="562.85" y1="41.76" x2="562.85" y2="44.96" stroke="#111" stroke-width="0.7" />
<line x1="561.25" y1="41.76" x2="564.45" y2="41.76" stroke="#111" stroke-width="0.7" />
<line x1="561.25" y1="44.96" x2="564.45" y2="44.96" stroke="#111" stroke-width="0.7" />
<line x1="571.15" y1="127.78" x2="571.15" y2="130.58" stroke="#111" stroke-width="0.7" />
<line x1="569.55" y1="127.78" x2="572.75" y2="127.78" stroke="#111" stroke-width="0.7" />
<line x1="569.55" y1="130.58" x2="572.75" y2="130.58" stroke="#111" stroke-width="0.7" />
<line x1="571.15" y1="117.43" x2="571.15" y2="119.63" stroke="#111" stroke-width="0.7" />
<line x1="569.55" y1="117.43" x2="572.75" y2="117.43" stroke="#111" stroke-width="0.7" />
<line x1="569.55" y1="119.63" x2="572.75" y2="119.63" stroke="#111" stroke-width="0.7" />
<rect x="590.60" y="50.56" width="8.30" height="102.24" fill="#2c5686" stroke="#1d2b1d" stroke-width="0.8"/>
<rect x="590.60" y="38.03" width="8.30" height="12.53" fill="#26808a" stroke="#1d2b1d" stroke-width="0.8"/>
<rect x="598.90" y="146.61" width="8.30" height="6.19" fill="#3db471" stroke="#1d2b1d" stroke-width="0.8"/>
<rect x="598.90" y="135.09" width="8.30" height="11.52" fill="#7cc355" stroke="#1d2b1d" stroke-width="0.8"/>
<line x1="594.75" y1="48.66" x2="594.75" y2="52.46" stroke="#111" stroke-width="0.7" />
<line x1="593.15" y1="48.66" x2="596.35" y2="48.66" stroke="#111" stroke-width="0.7" />
<line x1="593.15" y1="52.46" x2="596.35" y2="52.46" stroke="#111" stroke-width="0.7" />
<line x1="594.75" y1="36.43" x2="594.75" y2="39.63" stroke="#111" stroke-width="0.7" />
<line x1="593.15" y1="36.43" x2="596.35" y2="36.43" stroke="#111" stroke-width="0.7" />
<line x1="593.15" y1="39.63" x2="596.35" y2="39.63" stroke="#111" stroke-width="0.7" />
<line x1="603.05" y1="145.21" x2="603.05" y2="148.01" stroke="#111" stroke-width="0.7" />
<line x1="601.45" y1="145.21" x2="604.65" y2="145.21" stroke="#111" stroke-width="0.7" />
<line x1="601.45" y1="148.01" x2="604.65" y2="148.01" stroke="#111" stroke-width="0.7" />
<line x1="603.05" y1="133.99" x2="603.05" y2="136.19" stroke="#111" stroke-width="0.7" />
<line x1="601.45" y1="133.99" x2="604.65" y2="133.99" stroke="#111" stroke-width="0.7" />
<line x1="601.45" y1="136.19" x2="604.65" y2="136.19" stroke="#111" stroke-width="0.7" />
<rect x="453.75" y="23.50" width="160.95" height="129.30" fill="none" stroke="#3a3a3a" stroke-width="1"/>
<line x1="450.75" y1="152.80" x2="453.75" y2="152.80" stroke="#3a3a3a" stroke-width="1" />
<text x="449.45" y="156.40" font-size="10" text-anchor="end" font-weight="normal" fill="#333333" >0</text>
<line x1="452.15" y1="138.40" x2="453.75" y2="138.40" stroke="#3a3a3a" stroke-width="1" />
<line x1="450.75" y1="124.00" x2="453.75" y2="124.00" stroke="#3a3a3a" stroke-width="1" />
<text x="449.45" y="127.60" font-size="10" text-anchor="end" font-weight="normal" fill="#333333" >20</text>
<line x1="452.15" y1="109.60" x2="453.75" y2="109.60" stroke="#3a3a3a" stroke-width="1" />
<line x1="450.75" y1="95.20" x2="453.75" y2="95.20" stroke="#3a3a3a" stroke-width="1" />
<text x="449.45" y="98.80" font-size="10" text-anchor="end" font-weight="normal" fill="#333333" >40</text>
<line x1="452.15" y1="80.80" x2="453.75" y2="80.80" stroke="#3a3a3a" stroke-width="1" />
<line x1="450.75" y1="66.40" x2="453.75" y2="66.40" stroke="#3a3a3a" stroke-width="1" />
<text x="449.45" y="70.00" font-size="10" text-anchor="end" font-weight="normal" fill="#333333" >60</text>
<line x1="452.15" y1="52.00" x2="453.75" y2="52.00" stroke="#3a3a3a" stroke-width="1" />
<line x1="450.75" y1="37.60" x2="453.75" y2="37.60" stroke="#3a3a3a" stroke-width="1" />
<text x="449.45" y="41.20" font-size="10" text-anchor="end" font-weight="normal" fill="#333333" >80</text>
<line x1="614.70" y1="152.80" x2="616.90" y2="152.80" stroke="#3a3a3a" stroke-width="1" />
<text x="617.30" y="156.40" font-size="10" text-anchor="start" font-weight="normal" fill="#333333" >0</text>
<line x1="614.70" y1="137.51" x2="616.00" y2="137.51" stroke="#3a3a3a" stroke-width="1" />
<line x1="614.70" y1="122.22" x2="616.90" y2="122.22" stroke="#3a3a3a" stroke-width="1" />
<text x="617.30" y="125.82" font-size="10" text-anchor="start" font-weight="normal" fill="#333333" >2</text>
<line x1="614.70" y1="106.93" x2="616.00" y2="106.93" stroke="#3a3a3a" stroke-width="1" />
<line x1="614.70" y1="91.64" x2="616.90" y2="91.64" stroke="#3a3a3a" stroke-width="1" />
<text x="617.30" y="95.24" font-size="10" text-anchor="start" font-weight="normal" fill="#333333" >4</text>
<line x1="614.70" y1="76.35" x2="616.00" y2="76.35" stroke="#3a3a3a" stroke-width="1" />
<line x1="614.70" y1="61.06" x2="616.90" y2="61.06" stroke="#3a3a3a" stroke-width="1" />
<text x="617.30" y="64.66" font-size="10" text-anchor="start" font-weight="normal" fill="#333333" >6</text>
<line x1="614.70" y1="45.77" x2="616.00" y2="45.77" stroke="#3a3a3a" stroke-width="1" />
<line x1="614.70" y1="30.48" x2="616.90" y2="30.48" stroke="#3a3a3a" stroke-width="1" />
<text x="617.30" y="34.08" font-size="10" text-anchor="start" font-weight="normal" fill="#333333" >8</text>
<line x1="470.75" y1="152.80" x2="470.75" y2="155.30" stroke="#3a3a3a" stroke-width="1" />
<text x="469.15" y="164.40" font-size="10" text-anchor="middle" font-weight="normal" fill="#333333" >-0.8</text>
<line x1="486.75" y1="152.80" x2="486.75" y2="154.30" stroke="#3a3a3a" stroke-width="1" />
<line x1="502.75" y1="152.80" x2="502.75" y2="155.30" stroke="#3a3a3a" stroke-width="1" />
<text x="501.15" y="164.40" font-size="10" text-anchor="middle" font-weight="normal" fill="#333333" >-1</text>
<line x1="518.75" y1="152.80" x2="518.75" y2="154.30" stroke="#3a3a3a" stroke-width="1" />
<line x1="534.75" y1="152.80" x2="534.75" y2="155.30" stroke="#3a3a3a" stroke-width="1" />
<text x="533.15" y="164.40" font-size="10" text-anchor="middle" font-weight="normal" fill="#333333" >-1.2</text>
<line x1="550.88" y1="152.80" x2="550.88" y2="154.30" stroke="#3a3a3a" stroke-width="1" />
<line x1="567.00" y1="152.80" x2="567.00" y2="155.30" stroke="#3a3a3a" stroke-width="1" />
<text x="565.40" y="164.40" font-size="10" text-anchor="middle" font-weight="normal" fill="#333333" >-1.4</text>
<line x1="582.95" y1="152.80" x2="582.95" y2="154.30" stroke="#3a3a3a" stroke-width="1" />
<line x1="598.90" y1="152.80" x2="598.90" y2="155.30" stroke="#3a3a3a" stroke-width="1" />
<text x="597.30" y="164.40" font-size="10" text-anchor="middle" font-weight="normal" fill="#333333" >-1.6</text>
<text x="537.30" y="177.50" font-size="10" text-anchor="middle" font-weight="normal" fill="#333333" >E (V vs RHE)</text>
<text x="434.90" y="85.30" font-size="9.8" text-anchor="middle" font-weight="normal" fill="#333333" transform="rotate(-90 434.90 85.30)" >FEC2+(%)</text>
<text x="632.80" y="89.00" font-size="9.8" text-anchor="middle" font-weight="normal" fill="#333333" transform="rotate(-90 632.80 89.00)" >C2/C1</text>
<text x="443.60" y="14.70" font-size="12" text-anchor="start" font-weight="bold" fill="#111" >c</text>
<path d="M470.0,138.2 C475.4,133.2 491.7,119.0 502.5,108.0 C513.3,97.0 524.2,83.2 535.0,72.0 C545.8,60.8 558.8,47.0 567.0,40.8 C575.2,34.5 578.7,35.4 584.0,34.2 C589.3,33.0 596.3,33.7 598.8,33.6" fill="none" stroke="#222" stroke-width="0.9"/>
<path d="M470.4,143.0 C473.3,141.5 481.7,136.0 488.0,134.0 C494.3,132.0 500.2,130.9 508.0,130.8 C515.8,130.7 524.7,132.2 534.5,133.4 C544.3,134.6 558.1,136.9 567.0,138.2 C575.9,139.5 582.7,140.6 588.0,141.0 C593.3,141.4 597.2,140.5 599.0,140.4" fill="none" stroke="#333" stroke-width="0.8"/>
<line x1="470.00" y1="135.45" x2="470.00" y2="141.05" stroke="#e8807a" stroke-width="0.7" />
<line x1="468.90" y1="135.45" x2="471.10" y2="135.45" stroke="#e8807a" stroke-width="0.7" />
<line x1="468.90" y1="141.05" x2="471.10" y2="141.05" stroke="#e8807a" stroke-width="0.7" />
<circle cx="470.0" cy="138.2" r="1.7" fill="#c8282a"/>
<line x1="502.50" y1="105.20" x2="502.50" y2="110.80" stroke="#e8807a" stroke-width="0.7" />
<line x1="501.40" y1="105.20" x2="503.60" y2="105.20" stroke="#e8807a" stroke-width="0.7" />
<line x1="501.40" y1="110.80" x2="503.60" y2="110.80" stroke="#e8807a" stroke-width="0.7" />
<circle cx="502.5" cy="108.0" r="1.7" fill="#c8282a"/>
<line x1="535.00" y1="69.20" x2="535.00" y2="74.80" stroke="#e8807a" stroke-width="0.7" />
<line x1="533.90" y1="69.20" x2="536.10" y2="69.20" stroke="#e8807a" stroke-width="0.7" />
<line x1="533.90" y1="74.80" x2="536.10" y2="74.80" stroke="#e8807a" stroke-width="0.7" />
<circle cx="535.0" cy="72.0" r="1.7" fill="#c8282a"/>
<line x1="567.00" y1="37.95" x2="567.00" y2="43.55" stroke="#e8807a" stroke-width="0.7" />
<line x1="565.90" y1="37.95" x2="568.10" y2="37.95" stroke="#e8807a" stroke-width="0.7" />
<line x1="565.90" y1="43.55" x2="568.10" y2="43.55" stroke="#e8807a" stroke-width="0.7" />
<circle cx="567.0" cy="40.8" r="1.7" fill="#c8282a"/>
<line x1="598.75" y1="31.20" x2="598.75" y2="36.80" stroke="#e8807a" stroke-width="0.7" />
<line x1="597.65" y1="31.20" x2="599.85" y2="31.20" stroke="#e8807a" stroke-width="0.7" />
<line x1="597.65" y1="36.80" x2="599.85" y2="36.80" stroke="#e8807a" stroke-width="0.7" />
<circle cx="598.8" cy="34.0" r="1.7" fill="#c8282a"/>
<line x1="470.40" y1="141.20" x2="470.40" y2="144.80" stroke="#eadf6a" stroke-width="0.7" />
<line x1="469.40" y1="141.20" x2="471.40" y2="141.20" stroke="#eadf6a" stroke-width="0.7" />
<line x1="469.40" y1="144.80" x2="471.40" y2="144.80" stroke="#eadf6a" stroke-width="0.7" />
<rect x="468.9" y="141.5" width="3" height="3" fill="#f2e03a"/>
<line x1="502.50" y1="127.95" x2="502.50" y2="131.55" stroke="#eadf6a" stroke-width="0.7" />
<line x1="501.50" y1="127.95" x2="503.50" y2="127.95" stroke="#eadf6a" stroke-width="0.7" />
<line x1="501.50" y1="131.55" x2="503.50" y2="131.55" stroke="#eadf6a" stroke-width="0.7" />
<rect x="501.0" y="128.2" width="3" height="3" fill="#f2e03a"/>
<line x1="534.50" y1="133.95" x2="534.50" y2="137.55" stroke="#eadf6a" stroke-width="0.7" />
<line x1="533.50" y1="133.95" x2="535.50" y2="133.95" stroke="#eadf6a" stroke-width="0.7" />
<line x1="533.50" y1="137.55" x2="535.50" y2="137.55" stroke="#eadf6a" stroke-width="0.7" />
<rect x="533.0" y="134.2" width="3" height="3" fill="#f2e03a"/>
<line x1="566.75" y1="135.20" x2="566.75" y2="138.80" stroke="#eadf6a" stroke-width="0.7" />
<line x1="565.75" y1="135.20" x2="567.75" y2="135.20" stroke="#eadf6a" stroke-width="0.7" />
<line x1="565.75" y1="138.80" x2="567.75" y2="138.80" stroke="#eadf6a" stroke-width="0.7" />
<rect x="565.2" y="135.5" width="3" height="3" fill="#f2e03a"/>
<line x1="599.00" y1="138.60" x2="599.00" y2="142.20" stroke="#eadf6a" stroke-width="0.7" />
<line x1="598.00" y1="138.60" x2="600.00" y2="138.60" stroke="#eadf6a" stroke-width="0.7" />
<line x1="598.00" y1="142.20" x2="600.00" y2="142.20" stroke="#eadf6a" stroke-width="0.7" />
<rect x="597.5" y="138.9" width="3" height="3" fill="#f2e03a"/>
<defs><marker id="ah" viewBox="0 0 10 10" refX="8" refY="5" markerWidth="6.5" markerHeight="6.5" orient="auto"><path d="M0,2.2 L10,5 L0,7.8 z" fill="#222"/></marker></defs>
<path d="M498.8,97.6 Q488,100 477.5,99.6" fill="none" stroke="#222" stroke-width="0.8" marker-end="url(#ah)"/>
<path d="M591.5,31.5 Q596,26.2 608.5,27" fill="none" stroke="#222" stroke-width="0.8" marker-end="url(#ah)"/>
<circle cx="461.8" cy="29.2" r="1.6" fill="#c8282a"/>
<rect x="460.3" y="36.5" width="3" height="3" fill="#f2e03a"/>
<text x="467.50" y="31.20" font-size="7.1" text-anchor="start" font-weight="normal" fill="#333333" >CuO-SH</text>
<text x="467.50" y="39.20" font-size="7.1" text-anchor="start" font-weight="normal" fill="#333333" >CuO</text>
<rect x="495.50" y="26.20" width="13.00" height="6.00" fill="#2c5686" stroke="#223" stroke-width="0.6"/>
<rect x="495.50" y="33.80" width="13.00" height="6.00" fill="#3db471" stroke="#223" stroke-width="0.6"/>
<text x="511.20" y="34.20" font-size="6.8" text-anchor="start" font-weight="normal" fill="#333333" >C<tspan dy="1.6" font-size="62%">2</tspan><tspan dy="-1.6">&#8203;</tspan>H<tspan dy="1.6" font-size="62%">4</tspan><tspan dy="-1.6">&#8203;</tspan></text>
<rect x="529.80" y="26.20" width="13.20" height="6.00" fill="#26808a" stroke="#223" stroke-width="0.6"/>
<rect x="529.80" y="33.80" width="13.20" height="6.00" fill="#7cc355" stroke="#223" stroke-width="0.6"/>
<text x="545.00" y="37.00" font-size="6.9" text-anchor="start" font-weight="normal" fill="#333333" >ethanol</text>
<rect x="107.50" y="329.73" width="14.00" height="7.88" fill="#cfd632" stroke="#1a1a2a" stroke-width="0.8"/>
<rect x="107.50" y="319.98" width="14.00" height="9.75" fill="#62c060" stroke="#1a1a2a" stroke-width="0.8"/>
<rect x="107.50" y="319.23" width="14.00" height="0.75" fill="#2ba88a" stroke="#1a1a2a" stroke-width="0.8"/>
<rect x="107.50" y="315.85" width="14.00" height="3.38" fill="#2d8496" stroke="#1a1a2a" stroke-width="0.8"/>
<rect x="107.50" y="314.73" width="14.00" height="1.12" fill="#47549a" stroke="#1a1a2a" stroke-width="0.8"/>
<rect x="107.50" y="312.66" width="14.00" height="2.06" fill="#4a2170" stroke="#1a1a2a" stroke-width="0.8"/>
<line x1="114.50" y1="328.23" x2="114.50" y2="331.23" stroke="#111" stroke-width="0.7" />
<line x1="112.90" y1="328.23" x2="116.10" y2="328.23" stroke="#111" stroke-width="0.7" />
<line x1="112.90" y1="331.23" x2="116.10" y2="331.23" stroke="#111" stroke-width="0.7" />
<line x1="114.50" y1="319.41" x2="114.50" y2="320.54" stroke="#111" stroke-width="0.7" />
<line x1="112.90" y1="319.41" x2="116.10" y2="319.41" stroke="#111" stroke-width="0.7" />
<line x1="112.90" y1="320.54" x2="116.10" y2="320.54" stroke="#111" stroke-width="0.7" />
<line x1="114.50" y1="312.10" x2="114.50" y2="313.23" stroke="#111" stroke-width="0.7" />
<line x1="112.90" y1="312.10" x2="116.10" y2="312.10" stroke="#111" stroke-width="0.7" />
<line x1="112.90" y1="313.23" x2="116.10" y2="313.23" stroke="#111" stroke-width="0.7" />
<rect x="142.60" y="332.35" width="14.00" height="5.25" fill="#cfd632" stroke="#1a1a2a" stroke-width="0.8"/>
<rect x="142.60" y="303.10" width="14.00" height="29.25" fill="#62c060" stroke="#1a1a2a" stroke-width="0.8"/>
<rect x="142.60" y="301.98" width="14.00" height="1.12" fill="#2ba88a" stroke="#1a1a2a" stroke-width="0.8"/>
<rect x="142.60" y="298.34" width="14.00" height="3.64" fill="#2d8496" stroke="#1a1a2a" stroke-width="0.8"/>
<rect x="142.60" y="286.23" width="14.00" height="12.11" fill="#47549a" stroke="#1a1a2a" stroke-width="0.8"/>
<rect x="142.60" y="282.48" width="14.00" height="3.75" fill="#4a2170" stroke="#1a1a2a" stroke-width="0.8"/>
<line x1="149.60" y1="331.98" x2="149.60" y2="332.73" stroke="#111" stroke-width="0.7" />
<line x1="148.00" y1="331.98" x2="151.20" y2="331.98" stroke="#111" stroke-width="0.7" />
<line x1="148.00" y1="332.73" x2="151.20" y2="332.73" stroke="#111" stroke-width="0.7" />
<line x1="149.60" y1="302.16" x2="149.60" y2="304.04" stroke="#111" stroke-width="0.7" />
<line x1="148.00" y1="302.16" x2="151.20" y2="302.16" stroke="#111" stroke-width="0.7" />
<line x1="148.00" y1="304.04" x2="151.20" y2="304.04" stroke="#111" stroke-width="0.7" />
<line x1="149.60" y1="301.23" x2="149.60" y2="302.73" stroke="#111" stroke-width="0.7" />
<line x1="148.00" y1="301.23" x2="151.20" y2="301.23" stroke="#111" stroke-width="0.7" />
<line x1="148.00" y1="302.73" x2="151.20" y2="302.73" stroke="#111" stroke-width="0.7" />
<line x1="149.60" y1="297.40" x2="149.60" y2="299.28" stroke="#111" stroke-width="0.7" />
<line x1="148.00" y1="297.40" x2="151.20" y2="297.40" stroke="#111" stroke-width="0.7" />
<line x1="148.00" y1="299.28" x2="151.20" y2="299.28" stroke="#111" stroke-width="0.7" />
<line x1="149.60" y1="285.10" x2="149.60" y2="287.35" stroke="#111" stroke-width="0.7" />
<line x1="148.00" y1="285.10" x2="151.20" y2="285.10" stroke="#111" stroke-width="0.7" />
<line x1="148.00" y1="287.35" x2="151.20" y2="287.35" stroke="#111" stroke-width="0.7" />
<line x1="149.60" y1="281.91" x2="149.60" y2="283.04" stroke="#111" stroke-width="0.7" />
<line x1="148.00" y1="281.91" x2="151.20" y2="281.91" stroke="#111" stroke-width="0.7" />
<line x1="148.00" y1="283.04" x2="151.20" y2="283.04" stroke="#111" stroke-width="0.7" />
<rect x="177.60" y="333.10" width="14.00" height="4.50" fill="#cfd632" stroke="#1a1a2a" stroke-width="0.8"/>
<rect x="177.60" y="311.09" width="14.00" height="22.01" fill="#62c060" stroke="#1a1a2a" stroke-width="0.8"/>
<rect x="177.60" y="309.85" width="14.00" height="1.24" fill="#2ba88a" stroke="#1a1a2a" stroke-width="0.8"/>
<rect x="177.60" y="307.34" width="14.00" height="2.51" fill="#2d8496" stroke="#1a1a2a" stroke-width="0.8"/>
<rect x="177.60" y="253.23" width="14.00" height="54.11" fill="#47549a" stroke="#1a1a2a" stroke-width="0.8"/>
<rect x="177.60" y="246.85" width="14.00" height="6.38" fill="#4a2170" stroke="#1a1a2a" stroke-width="0.8"/>
<line x1="184.60" y1="309.96" x2="184.60" y2="312.21" stroke="#111" stroke-width="0.7" />
<line x1="183.00" y1="309.96" x2="186.20" y2="309.96" stroke="#111" stroke-width="0.7" />
<line x1="183.00" y1="312.21" x2="186.20" y2="312.21" stroke="#111" stroke-width="0.7" />
<line x1="184.60" y1="308.73" x2="184.60" y2="310.98" stroke="#111" stroke-width="0.7" />
<line x1="183.00" y1="308.73" x2="186.20" y2="308.73" stroke="#111" stroke-width="0.7" />
<line x1="183.00" y1="310.98" x2="186.20" y2="310.98" stroke="#111" stroke-width="0.7" />
<line x1="184.60" y1="306.03" x2="184.60" y2="308.65" stroke="#111" stroke-width="0.7" />
<line x1="183.00" y1="306.03" x2="186.20" y2="306.03" stroke="#111" stroke-width="0.7" />
<line x1="183.00" y1="308.65" x2="186.20" y2="308.65" stroke="#111" stroke-width="0.7" />
<line x1="184.60" y1="250.60" x2="184.60" y2="255.85" stroke="#111" stroke-width="0.7" />
<line x1="183.00" y1="250.60" x2="186.20" y2="250.60" stroke="#111" stroke-width="0.7" />
<line x1="183.00" y1="255.85" x2="186.20" y2="255.85" stroke="#111" stroke-width="0.7" />
<line x1="184.60" y1="244.60" x2="184.60" y2="249.10" stroke="#111" stroke-width="0.7" />
<line x1="183.00" y1="244.60" x2="186.20" y2="244.60" stroke="#111" stroke-width="0.7" />
<line x1="183.00" y1="249.10" x2="186.20" y2="249.10" stroke="#111" stroke-width="0.7" />
<rect x="212.40" y="331.23" width="14.00" height="6.38" fill="#cfd632" stroke="#1a1a2a" stroke-width="0.8"/>
<rect x="212.40" y="324.48" width="14.00" height="6.75" fill="#62c060" stroke="#1a1a2a" stroke-width="0.8"/>
<rect x="212.40" y="321.85" width="14.00" height="2.62" fill="#2ba88a" stroke="#1a1a2a" stroke-width="0.8"/>
<rect x="212.40" y="320.84" width="14.00" height="1.01" fill="#2d8496" stroke="#1a1a2a" stroke-width="0.8"/>
<rect x="212.40" y="234.48" width="14.00" height="86.36" fill="#47549a" stroke="#1a1a2a" stroke-width="0.8"/>
<rect x="212.40" y="226.98" width="14.00" height="7.50" fill="#4a2170" stroke="#1a1a2a" stroke-width="0.8"/>
<line x1="219.40" y1="330.85" x2="219.40" y2="331.60" stroke="#111" stroke-width="0.7" />
<line x1="217.80" y1="330.85" x2="221.00" y2="330.85" stroke="#111" stroke-width="0.7" />
<line x1="217.80" y1="331.60" x2="221.00" y2="331.60" stroke="#111" stroke-width="0.7" />
<line x1="219.40" y1="322.98" x2="219.40" y2="325.98" stroke="#111" stroke-width="0.7" />
<line x1="217.80" y1="322.98" x2="221.00" y2="322.98" stroke="#111" stroke-width="0.7" />
<line x1="217.80" y1="325.98" x2="221.00" y2="325.98" stroke="#111" stroke-width="0.7" />
<line x1="219.40" y1="320.09" x2="219.40" y2="321.59" stroke="#111" stroke-width="0.7" />
<line x1="217.80" y1="320.09" x2="221.00" y2="320.09" stroke="#111" stroke-width="0.7" />
<line x1="217.80" y1="321.59" x2="221.00" y2="321.59" stroke="#111" stroke-width="0.7" />
<line x1="219.40" y1="229.98" x2="219.40" y2="238.98" stroke="#111" stroke-width="0.7" />
<line x1="217.80" y1="229.98" x2="221.00" y2="229.98" stroke="#111" stroke-width="0.7" />
<line x1="217.80" y1="238.98" x2="221.00" y2="238.98" stroke="#111" stroke-width="0.7" />
<line x1="219.40" y1="224.35" x2="219.40" y2="229.60" stroke="#111" stroke-width="0.7" />
<line x1="217.80" y1="224.35" x2="221.00" y2="224.35" stroke="#111" stroke-width="0.7" />
<line x1="217.80" y1="229.60" x2="221.00" y2="229.60" stroke="#111" stroke-width="0.7" />
<rect x="247.40" y="331.34" width="14.00" height="6.26" fill="#cfd632" stroke="#1a1a2a" stroke-width="0.8"/>
<rect x="247.40" y="324.48" width="14.00" height="6.86" fill="#62c060" stroke="#1a1a2a" stroke-width="0.8"/>
<rect x="247.40" y="322.34" width="14.00" height="2.14" fill="#2ba88a" stroke="#1a1a2a" stroke-width="0.8"/>
<rect x="247.40" y="320.35" width="14.00" height="1.99" fill="#2d8496" stroke="#1a1a2a" stroke-width="0.8"/>
<rect x="247.40" y="220.34" width="14.00" height="100.01" fill="#47549a" stroke="#1a1a2a" stroke-width="0.8"/>
<rect x="247.40" y="212.84" width="14.00" height="7.50" fill="#4a2170" stroke="#1a1a2a" stroke-width="0.8"/>
<line x1="254.40" y1="330.96" x2="254.40" y2="331.71" stroke="#111" stroke-width="0.7" />
<line x1="252.80" y1="330.96" x2="256.00" y2="330.96" stroke="#111" stroke-width="0.7" />
<line x1="252.80" y1="331.71" x2="256.00" y2="331.71" stroke="#111" stroke-width="0.7" />
<line x1="254.40" y1="323.54" x2="254.40" y2="325.41" stroke="#111" stroke-width="0.7" />
<line x1="252.80" y1="323.54" x2="256.00" y2="323.54" stroke="#111" stroke-width="0.7" />
<line x1="252.80" y1="325.41" x2="256.00" y2="325.41" stroke="#111" stroke-width="0.7" />
<line x1="254.40" y1="321.78" x2="254.40" y2="322.90" stroke="#111" stroke-width="0.7" />
<line x1="252.80" y1="321.78" x2="256.00" y2="321.78" stroke="#111" stroke-width="0.7" />
<line x1="252.80" y1="322.90" x2="256.00" y2="322.90" stroke="#111" stroke-width="0.7" />
<line x1="254.40" y1="319.41" x2="254.40" y2="321.29" stroke="#111" stroke-width="0.7" />
<line x1="252.80" y1="319.41" x2="256.00" y2="319.41" stroke="#111" stroke-width="0.7" />
<line x1="252.80" y1="321.29" x2="256.00" y2="321.29" stroke="#111" stroke-width="0.7" />
<line x1="254.40" y1="216.21" x2="254.40" y2="224.46" stroke="#111" stroke-width="0.7" />
<line x1="252.80" y1="216.21" x2="256.00" y2="216.21" stroke="#111" stroke-width="0.7" />
<line x1="252.80" y1="224.46" x2="256.00" y2="224.46" stroke="#111" stroke-width="0.7" />
<line x1="254.40" y1="210.59" x2="254.40" y2="215.09" stroke="#111" stroke-width="0.7" />
<line x1="252.80" y1="210.59" x2="256.00" y2="210.59" stroke="#111" stroke-width="0.7" />
<line x1="252.80" y1="215.09" x2="256.00" y2="215.09" stroke="#111" stroke-width="0.7" />
<rect x="96.75" y="197.50" width="175.00" height="140.10" fill="none" stroke="#3a3a3a" stroke-width="1"/>
<line x1="93.75" y1="337.60" x2="96.75" y2="337.60" stroke="#3a3a3a" stroke-width="1" />
<text x="92.95" y="341.20" font-size="10" text-anchor="end" font-weight="normal" fill="#333333" >0</text>
<line x1="95.15" y1="318.85" x2="96.75" y2="318.85" stroke="#3a3a3a" stroke-width="1" />
<line x1="93.75" y1="300.10" x2="96.75" y2="300.10" stroke="#3a3a3a" stroke-width="1" />
<text x="92.95" y="303.70" font-size="10" text-anchor="end" font-weight="normal" fill="#333333" >100</text>
<line x1="95.15" y1="281.35" x2="96.75" y2="281.35" stroke="#3a3a3a" stroke-width="1" />
<line x1="93.75" y1="262.60" x2="96.75" y2="262.60" stroke="#3a3a3a" stroke-width="1" />
<text x="92.95" y="266.20" font-size="10" text-anchor="end" font-weight="normal" fill="#333333" >200</text>
<line x1="95.15" y1="243.85" x2="96.75" y2="243.85" stroke="#3a3a3a" stroke-width="1" />
<line x1="93.75" y1="225.10" x2="96.75" y2="225.10" stroke="#3a3a3a" stroke-width="1" />
<text x="92.95" y="228.70" font-size="10" text-anchor="end" font-weight="normal" fill="#333333" >300</text>
<line x1="95.15" y1="206.35" x2="96.75" y2="206.35" stroke="#3a3a3a" stroke-width="1" />
<line x1="114.50" y1="337.60" x2="114.50" y2="340.10" stroke="#3a3a3a" stroke-width="1" />
<text x="114.80" y="351.10" font-size="10" text-anchor="middle" font-weight="normal" fill="#333333" >-0.6</text>
<line x1="132.05" y1="337.60" x2="132.05" y2="339.10" stroke="#3a3a3a" stroke-width="1" />
<line x1="149.60" y1="337.60" x2="149.60" y2="340.10" stroke="#3a3a3a" stroke-width="1" />
<text x="149.90" y="351.10" font-size="10" text-anchor="middle" font-weight="normal" fill="#333333" >-0.8</text>
<line x1="167.10" y1="337.60" x2="167.10" y2="339.10" stroke="#3a3a3a" stroke-width="1" />
<line x1="184.60" y1="337.60" x2="184.60" y2="340.10" stroke="#3a3a3a" stroke-width="1" />
<text x="184.90" y="351.10" font-size="10" text-anchor="middle" font-weight="normal" fill="#333333" >-1</text>
<line x1="202.00" y1="337.60" x2="202.00" y2="339.10" stroke="#3a3a3a" stroke-width="1" />
<line x1="219.40" y1="337.60" x2="219.40" y2="340.10" stroke="#3a3a3a" stroke-width="1" />
<text x="219.70" y="351.10" font-size="10" text-anchor="middle" font-weight="normal" fill="#333333" >-1.2</text>
<line x1="236.90" y1="337.60" x2="236.90" y2="339.10" stroke="#3a3a3a" stroke-width="1" />
<line x1="254.40" y1="337.60" x2="254.40" y2="340.10" stroke="#3a3a3a" stroke-width="1" />
<text x="254.70" y="351.10" font-size="10" text-anchor="middle" font-weight="normal" fill="#333333" >-1.4</text>
<text x="178.60" y="365.00" font-size="10" text-anchor="middle" font-weight="normal" fill="#333333" >E (V vs RHE)</text>
<text x="72.50" y="268.55" font-size="10" text-anchor="middle" font-weight="normal" fill="#333333" transform="rotate(-90 72.50 268.55)" >J tatol (mA cm<tspan dy="-3" font-size="60%">-1</tspan><tspan dy="3">)</tspan></text>
<text x="66.40" y="195.60" font-size="12" text-anchor="start" font-weight="bold" fill="#111" >d</text>
<rect x="104.30" y="204.60" width="16.00" height="7.80" fill="#cfd632" stroke="#1a1a2a" stroke-width="0.7"/>
<text x="122.50" y="211.10" font-size="7" text-anchor="start" font-weight="normal" fill="#333333" >H<tspan dy="1.6" font-size="62%">2</tspan><tspan dy="-1.6">&#8203;</tspan></text>
<rect x="104.30" y="213.50" width="16.00" height="7.80" fill="#62c060" stroke="#1a1a2a" stroke-width="0.7"/>
<text x="122.50" y="220.00" font-size="7" text-anchor="start" font-weight="normal" fill="#333333" >CO</text>
<rect x="104.30" y="222.40" width="16.00" height="7.80" fill="#2ba88a" stroke="#1a1a2a" stroke-width="0.7"/>
<text x="122.50" y="228.90" font-size="7" text-anchor="start" font-weight="normal" fill="#333333" >formate</text>
<rect x="104.30" y="231.30" width="16.00" height="7.80" fill="#2d8496" stroke="#1a1a2a" stroke-width="0.7"/>
<text x="122.50" y="237.80" font-size="7" text-anchor="start" font-weight="normal" fill="#333333" >CH<tspan dy="1.6" font-size="62%">4</tspan><tspan dy="-1.6">&#8203;</tspan></text>
<rect x="104.30" y="240.20" width="16.00" height="7.80" fill="#47549a" stroke="#1a1a2a" stroke-width="0.7"/>
<text x="122.50" y="246.70" font-size="7" text-anchor="start" font-weight="normal" fill="#333333" >C<tspan dy="1.6" font-size="62%">2</tspan><tspan dy="-1.6">&#8203;</tspan>H<tspan dy="1.6" font-size="62%">4</tspan><tspan dy="-1.6">&#8203;</tspan></text>
<rect x="104.30" y="249.10" width="16.00" height="7.80" fill="#4a2170" stroke="#1a1a2a" stroke-width="0.7"/>
<text x="122.50" y="255.60" font-size="7" text-anchor="start" font-weight="normal" fill="#333333" >ethanol</text>
<line x1="198.80" y1="234.30" x2="212.40" y2="234.30" stroke="#222" stroke-width="0.8" />
<line x1="198.80" y1="321.20" x2="212.40" y2="321.20" stroke="#222" stroke-width="0.8" />
<line x1="204.60" y1="234.30" x2="204.60" y2="252.00" stroke="#222" stroke-width="0.8" />
<line x1="204.60" y1="304.50" x2="204.60" y2="321.20" stroke="#222" stroke-width="0.8" />
<text x="208.40" y="278.25" font-size="7.1" text-anchor="middle" font-weight="normal" fill="#333333" transform="rotate(-90 208.40 278.25)" >74.5 &#160;&#177; 5.2 %</text>
<rect x="349.45" y="326.11" width="14.30" height="9.99" fill="#cfd632" stroke="#1a1a2a" stroke-width="0.8"/>
<rect x="349.45" y="319.27" width="14.30" height="6.84" fill="#62c060" stroke="#1a1a2a" stroke-width="0.8"/>
<rect x="349.45" y="318.90" width="14.30" height="0.37" fill="#2ba88a" stroke="#1a1a2a" stroke-width="0.8"/>
<rect x="349.45" y="315.16" width="14.30" height="3.74" fill="#2d8496" stroke="#1a1a2a" stroke-width="0.8"/>
<rect x="349.45" y="312.54" width="14.30" height="2.62" fill="#47549a" stroke="#1a1a2a" stroke-width="0.8"/>
<rect x="349.45" y="309.55" width="14.30" height="2.99" fill="#4a2170" stroke="#1a1a2a" stroke-width="0.8"/>
<line x1="356.60" y1="325.37" x2="356.60" y2="326.86" stroke="#111" stroke-width="0.7" />
<line x1="355.00" y1="325.37" x2="358.20" y2="325.37" stroke="#111" stroke-width="0.7" />
<line x1="355.00" y1="326.86" x2="358.20" y2="326.86" stroke="#111" stroke-width="0.7" />
<line x1="356.60" y1="318.15" x2="356.60" y2="320.39" stroke="#111" stroke-width="0.7" />
<line x1="355.00" y1="318.15" x2="358.20" y2="318.15" stroke="#111" stroke-width="0.7" />
<line x1="355.00" y1="320.39" x2="358.20" y2="320.39" stroke="#111" stroke-width="0.7" />
<line x1="356.60" y1="314.03" x2="356.60" y2="316.28" stroke="#111" stroke-width="0.7" />
<line x1="355.00" y1="314.03" x2="358.20" y2="314.03" stroke="#111" stroke-width="0.7" />
<line x1="355.00" y1="316.28" x2="358.20" y2="316.28" stroke="#111" stroke-width="0.7" />
<line x1="356.60" y1="311.42" x2="356.60" y2="313.66" stroke="#111" stroke-width="0.7" />
<line x1="355.00" y1="311.42" x2="358.20" y2="311.42" stroke="#111" stroke-width="0.7" />
<line x1="355.00" y1="313.66" x2="358.20" y2="313.66" stroke="#111" stroke-width="0.7" />
<rect x="384.75" y="316.65" width="14.30" height="19.45" fill="#cfd632" stroke="#1a1a2a" stroke-width="0.8"/>
<rect x="384.75" y="299.82" width="14.30" height="16.83" fill="#62c060" stroke="#1a1a2a" stroke-width="0.8"/>
<rect x="384.75" y="299.07" width="14.30" height="0.75" fill="#2ba88a" stroke="#1a1a2a" stroke-width="0.8"/>
<rect x="384.75" y="292.72" width="14.30" height="6.36" fill="#2d8496" stroke="#1a1a2a" stroke-width="0.8"/>
<rect x="384.75" y="285.24" width="14.30" height="7.48" fill="#47549a" stroke="#1a1a2a" stroke-width="0.8"/>
<rect x="384.75" y="278.13" width="14.30" height="7.11" fill="#4a2170" stroke="#1a1a2a" stroke-width="0.8"/>
<line x1="391.90" y1="315.90" x2="391.90" y2="317.40" stroke="#111" stroke-width="0.7" />
<line x1="390.30" y1="315.90" x2="393.50" y2="315.90" stroke="#111" stroke-width="0.7" />
<line x1="390.30" y1="317.40" x2="393.50" y2="317.40" stroke="#111" stroke-width="0.7" />
<line x1="391.90" y1="296.83" x2="391.90" y2="302.81" stroke="#111" stroke-width="0.7" />
<line x1="390.30" y1="296.83" x2="393.50" y2="296.83" stroke="#111" stroke-width="0.7" />
<line x1="390.30" y1="302.81" x2="393.50" y2="302.81" stroke="#111" stroke-width="0.7" />
<line x1="391.90" y1="291.59" x2="391.90" y2="293.84" stroke="#111" stroke-width="0.7" />
<line x1="390.30" y1="291.59" x2="393.50" y2="291.59" stroke="#111" stroke-width="0.7" />
<line x1="390.30" y1="293.84" x2="393.50" y2="293.84" stroke="#111" stroke-width="0.7" />
<line x1="391.90" y1="284.11" x2="391.90" y2="286.36" stroke="#111" stroke-width="0.7" />
<line x1="390.30" y1="284.11" x2="393.50" y2="284.11" stroke="#111" stroke-width="0.7" />
<line x1="390.30" y1="286.36" x2="393.50" y2="286.36" stroke="#111" stroke-width="0.7" />
<line x1="391.90" y1="275.89" x2="391.90" y2="280.37" stroke="#111" stroke-width="0.7" />
<line x1="390.30" y1="275.89" x2="393.50" y2="275.89" stroke="#111" stroke-width="0.7" />
<line x1="390.30" y1="280.37" x2="393.50" y2="280.37" stroke="#111" stroke-width="0.7" />
<rect x="419.35" y="313.29" width="14.30" height="22.81" fill="#cfd632" stroke="#1a1a2a" stroke-width="0.8"/>
<rect x="419.35" y="294.96" width="14.30" height="18.33" fill="#62c060" stroke="#1a1a2a" stroke-width="0.8"/>
<rect x="419.35" y="294.59" width="14.30" height="0.37" fill="#2ba88a" stroke="#1a1a2a" stroke-width="0.8"/>
<rect x="419.35" y="286.73" width="14.30" height="7.85" fill="#2d8496" stroke="#1a1a2a" stroke-width="0.8"/>
<rect x="419.35" y="243.09" width="14.30" height="43.65" fill="#47549a" stroke="#1a1a2a" stroke-width="0.8"/>
<rect x="419.35" y="237.10" width="14.30" height="5.98" fill="#4a2170" stroke="#1a1a2a" stroke-width="0.8"/>
<line x1="426.50" y1="310.29" x2="426.50" y2="316.28" stroke="#111" stroke-width="0.7" />
<line x1="424.90" y1="310.29" x2="428.10" y2="310.29" stroke="#111" stroke-width="0.7" />
<line x1="424.90" y1="316.28" x2="428.10" y2="316.28" stroke="#111" stroke-width="0.7" />
<line x1="426.50" y1="293.46" x2="426.50" y2="296.46" stroke="#111" stroke-width="0.7" />
<line x1="424.90" y1="293.46" x2="428.10" y2="293.46" stroke="#111" stroke-width="0.7" />
<line x1="424.90" y1="296.46" x2="428.10" y2="296.46" stroke="#111" stroke-width="0.7" />
<line x1="426.50" y1="285.98" x2="426.50" y2="287.48" stroke="#111" stroke-width="0.7" />
<line x1="424.90" y1="285.98" x2="428.10" y2="285.98" stroke="#111" stroke-width="0.7" />
<line x1="424.90" y1="287.48" x2="428.10" y2="287.48" stroke="#111" stroke-width="0.7" />
<line x1="426.50" y1="240.09" x2="426.50" y2="246.08" stroke="#111" stroke-width="0.7" />
<line x1="424.90" y1="240.09" x2="428.10" y2="240.09" stroke="#111" stroke-width="0.7" />
<line x1="424.90" y1="246.08" x2="428.10" y2="246.08" stroke="#111" stroke-width="0.7" />
<line x1="426.50" y1="235.61" x2="426.50" y2="238.60" stroke="#111" stroke-width="0.7" />
<line x1="424.90" y1="235.61" x2="428.10" y2="235.61" stroke="#111" stroke-width="0.7" />
<line x1="424.90" y1="238.60" x2="428.10" y2="238.60" stroke="#111" stroke-width="0.7" />
<rect x="454.25" y="307.60" width="14.30" height="28.50" fill="#cfd632" stroke="#1a1a2a" stroke-width="0.8"/>
<rect x="454.25" y="288.34" width="14.30" height="19.26" fill="#62c060" stroke="#1a1a2a" stroke-width="0.8"/>
<rect x="454.25" y="284.60" width="14.30" height="3.74" fill="#2ba88a" stroke="#1a1a2a" stroke-width="0.8"/>
<rect x="454.25" y="280.11" width="14.30" height="4.49" fill="#2d8496" stroke="#1a1a2a" stroke-width="0.8"/>
<rect x="454.25" y="223.60" width="14.30" height="56.51" fill="#47549a" stroke="#1a1a2a" stroke-width="0.8"/>
<rect x="454.25" y="214.18" width="14.30" height="9.42" fill="#4a2170" stroke="#1a1a2a" stroke-width="0.8"/>
<line x1="461.40" y1="306.48" x2="461.40" y2="308.72" stroke="#111" stroke-width="0.7" />
<line x1="459.80" y1="306.48" x2="463.00" y2="306.48" stroke="#111" stroke-width="0.7" />
<line x1="459.80" y1="308.72" x2="463.00" y2="308.72" stroke="#111" stroke-width="0.7" />
<line x1="461.40" y1="286.10" x2="461.40" y2="290.58" stroke="#111" stroke-width="0.7" />
<line x1="459.80" y1="286.10" x2="463.00" y2="286.10" stroke="#111" stroke-width="0.7" />
<line x1="459.80" y1="290.58" x2="463.00" y2="290.58" stroke="#111" stroke-width="0.7" />
<line x1="461.40" y1="283.48" x2="461.40" y2="285.72" stroke="#111" stroke-width="0.7" />
<line x1="459.80" y1="283.48" x2="463.00" y2="283.48" stroke="#111" stroke-width="0.7" />
<line x1="459.80" y1="285.72" x2="463.00" y2="285.72" stroke="#111" stroke-width="0.7" />
<line x1="461.40" y1="278.99" x2="461.40" y2="281.23" stroke="#111" stroke-width="0.7" />
<line x1="459.80" y1="278.99" x2="463.00" y2="278.99" stroke="#111" stroke-width="0.7" />
<line x1="459.80" y1="281.23" x2="463.00" y2="281.23" stroke="#111" stroke-width="0.7" />
<line x1="461.40" y1="217.62" x2="461.40" y2="229.58" stroke="#111" stroke-width="0.7" />
<line x1="459.80" y1="217.62" x2="463.00" y2="217.62" stroke="#111" stroke-width="0.7" />
<line x1="459.80" y1="229.58" x2="463.00" y2="229.58" stroke="#111" stroke-width="0.7" />
<line x1="461.40" y1="209.69" x2="461.40" y2="218.66" stroke="#111" stroke-width="0.7" />
<line x1="459.80" y1="209.69" x2="463.00" y2="209.69" stroke="#111" stroke-width="0.7" />
<line x1="459.80" y1="218.66" x2="463.00" y2="218.66" stroke="#111" stroke-width="0.7" />
<rect x="489.25" y="294.59" width="14.30" height="41.51" fill="#cfd632" stroke="#1a1a2a" stroke-width="0.8"/>
<rect x="489.25" y="266.91" width="14.30" height="27.68" fill="#62c060" stroke="#1a1a2a" stroke-width="0.8"/>
<rect x="489.25" y="263.36" width="14.30" height="3.55" fill="#2ba88a" stroke="#1a1a2a" stroke-width="0.8"/>
<rect x="489.25" y="259.06" width="14.30" height="4.30" fill="#2d8496" stroke="#1a1a2a" stroke-width="0.8"/>
<rect x="489.25" y="214.36" width="14.30" height="44.69" fill="#47549a" stroke="#1a1a2a" stroke-width="0.8"/>
<rect x="489.25" y="205.20" width="14.30" height="9.16" fill="#4a2170" stroke="#1a1a2a" stroke-width="0.8"/>
<line x1="496.40" y1="292.34" x2="496.40" y2="296.83" stroke="#111" stroke-width="0.7" />
<line x1="494.80" y1="292.34" x2="498.00" y2="292.34" stroke="#111" stroke-width="0.7" />
<line x1="494.80" y1="296.83" x2="498.00" y2="296.83" stroke="#111" stroke-width="0.7" />
<line x1="496.40" y1="264.67" x2="496.40" y2="269.15" stroke="#111" stroke-width="0.7" />
<line x1="494.80" y1="264.67" x2="498.00" y2="264.67" stroke="#111" stroke-width="0.7" />
<line x1="494.80" y1="269.15" x2="498.00" y2="269.15" stroke="#111" stroke-width="0.7" />
<line x1="496.40" y1="261.86" x2="496.40" y2="264.85" stroke="#111" stroke-width="0.7" />
<line x1="494.80" y1="261.86" x2="498.00" y2="261.86" stroke="#111" stroke-width="0.7" />
<line x1="494.80" y1="264.85" x2="498.00" y2="264.85" stroke="#111" stroke-width="0.7" />
<line x1="496.40" y1="257.56" x2="496.40" y2="260.55" stroke="#111" stroke-width="0.7" />
<line x1="494.80" y1="257.56" x2="498.00" y2="257.56" stroke="#111" stroke-width="0.7" />
<line x1="494.80" y1="260.55" x2="498.00" y2="260.55" stroke="#111" stroke-width="0.7" />
<line x1="496.40" y1="211.37" x2="496.40" y2="217.36" stroke="#111" stroke-width="0.7" />
<line x1="494.80" y1="211.37" x2="498.00" y2="211.37" stroke="#111" stroke-width="0.7" />
<line x1="494.80" y1="217.36" x2="498.00" y2="217.36" stroke="#111" stroke-width="0.7" />
<line x1="496.40" y1="202.21" x2="496.40" y2="208.19" stroke="#111" stroke-width="0.7" />
<line x1="494.80" y1="202.21" x2="498.00" y2="202.21" stroke="#111" stroke-width="0.7" />
<line x1="494.80" y1="208.19" x2="498.00" y2="208.19" stroke="#111" stroke-width="0.7" />
<rect x="339.25" y="196.40" width="175.00" height="139.70" fill="none" stroke="#3a3a3a" stroke-width="1"/>
<line x1="336.25" y1="336.10" x2="339.25" y2="336.10" stroke="#3a3a3a" stroke-width="1" />
<text x="333.55" y="339.70" font-size="10" text-anchor="end" font-weight="normal" fill="#333333" >0</text>
<line x1="337.65" y1="317.40" x2="339.25" y2="317.40" stroke="#3a3a3a" stroke-width="1" />
<line x1="336.25" y1="298.70" x2="339.25" y2="298.70" stroke="#3a3a3a" stroke-width="1" />
<text x="333.55" y="302.30" font-size="10" text-anchor="end" font-weight="normal" fill="#333333" >100</text>
<line x1="337.65" y1="280.00" x2="339.25" y2="280.00" stroke="#3a3a3a" stroke-width="1" />
<line x1="336.25" y1="261.30" x2="339.25" y2="261.30" stroke="#3a3a3a" stroke-width="1" />
<text x="333.55" y="264.90" font-size="10" text-anchor="end" font-weight="normal" fill="#333333" >200</text>
<line x1="337.65" y1="242.60" x2="339.25" y2="242.60" stroke="#3a3a3a" stroke-width="1" />
<line x1="336.25" y1="223.90" x2="339.25" y2="223.90" stroke="#3a3a3a" stroke-width="1" />
<text x="333.55" y="227.50" font-size="10" text-anchor="end" font-weight="normal" fill="#333333" >300</text>
<line x1="337.65" y1="205.20" x2="339.25" y2="205.20" stroke="#3a3a3a" stroke-width="1" />
<line x1="356.60" y1="336.10" x2="356.60" y2="338.60" stroke="#3a3a3a" stroke-width="1" />
<text x="356.90" y="349.10" font-size="10" text-anchor="middle" font-weight="normal" fill="#333333" >-0.6</text>
<line x1="374.25" y1="336.10" x2="374.25" y2="337.60" stroke="#3a3a3a" stroke-width="1" />
<line x1="391.90" y1="336.10" x2="391.90" y2="338.60" stroke="#3a3a3a" stroke-width="1" />
<text x="392.20" y="349.10" font-size="10" text-anchor="middle" font-weight="normal" fill="#333333" >-0.8</text>
<line x1="409.20" y1="336.10" x2="409.20" y2="337.60" stroke="#3a3a3a" stroke-width="1" />
<line x1="426.50" y1="336.10" x2="426.50" y2="338.60" stroke="#3a3a3a" stroke-width="1" />
<text x="426.80" y="349.10" font-size="10" text-anchor="middle" font-weight="normal" fill="#333333" >-1</text>
<line x1="443.95" y1="336.10" x2="443.95" y2="337.60" stroke="#3a3a3a" stroke-width="1" />
<line x1="461.40" y1="336.10" x2="461.40" y2="338.60" stroke="#3a3a3a" stroke-width="1" />
<text x="461.70" y="349.10" font-size="10" text-anchor="middle" font-weight="normal" fill="#333333" >-1.2</text>
<line x1="478.90" y1="336.10" x2="478.90" y2="337.60" stroke="#3a3a3a" stroke-width="1" />
<line x1="496.40" y1="336.10" x2="496.40" y2="338.60" stroke="#3a3a3a" stroke-width="1" />
<text x="496.70" y="349.10" font-size="10" text-anchor="middle" font-weight="normal" fill="#333333" >-1.4</text>
<text x="420.80" y="363.30" font-size="10" text-anchor="middle" font-weight="normal" fill="#333333" >E (V vs RHE)</text>
<text x="316.00" y="264.25" font-size="10" text-anchor="middle" font-weight="normal" fill="#333333" transform="rotate(-90 316.00 264.25)" >J tatol ( mA cm<tspan dy="-3" font-size="60%">-2</tspan><tspan dy="3">)</tspan></text>
<text x="304.80" y="195.80" font-size="12" text-anchor="start" font-weight="bold" fill="#111" >e</text>
<rect x="343.50" y="205.00" width="16.00" height="7.80" fill="#cfd632" stroke="#1a1a2a" stroke-width="0.7"/>
<text x="361.70" y="211.50" font-size="7" text-anchor="start" font-weight="normal" fill="#333333" >H<tspan dy="1.6" font-size="62%">2</tspan><tspan dy="-1.6">&#8203;</tspan></text>
<rect x="343.50" y="213.90" width="16.00" height="7.80" fill="#62c060" stroke="#1a1a2a" stroke-width="0.7"/>
<text x="361.70" y="220.40" font-size="7" text-anchor="start" font-weight="normal" fill="#333333" >CO</text>
<rect x="343.50" y="222.80" width="16.00" height="7.80" fill="#2ba88a" stroke="#1a1a2a" stroke-width="0.7"/>
<text x="361.70" y="229.30" font-size="7" text-anchor="start" font-weight="normal" fill="#333333" >formate</text>
<rect x="343.50" y="231.70" width="16.00" height="7.80" fill="#2d8496" stroke="#1a1a2a" stroke-width="0.7"/>
<text x="361.70" y="238.20" font-size="7" text-anchor="start" font-weight="normal" fill="#333333" >CH<tspan dy="1.6" font-size="62%">4</tspan><tspan dy="-1.6">&#8203;</tspan></text>
<rect x="343.50" y="240.60" width="16.00" height="7.80" fill="#47549a" stroke="#1a1a2a" stroke-width="0.7"/>
<text x="361.70" y="247.10" font-size="7" text-anchor="start" font-weight="normal" fill="#333333" >C<tspan dy="1.6" font-size="62%">2</tspan><tspan dy="-1.6">&#8203;</tspan>H<tspan dy="1.6" font-size="62%">4</tspan><tspan dy="-1.6">&#8203;</tspan></text>
<rect x="343.50" y="249.50" width="16.00" height="7.80" fill="#4a2170" stroke="#1a1a2a" stroke-width="0.7"/>
<text x="361.70" y="256.00" font-size="7" text-anchor="start" font-weight="normal" fill="#333333" >ethanol</text>
<line x1="445.00" y1="224.00" x2="454.20" y2="224.00" stroke="#222" stroke-width="0.8" />
<line x1="445.00" y1="279.50" x2="454.20" y2="279.50" stroke="#222" stroke-width="0.8" />
<line x1="448.80" y1="224.00" x2="448.80" y2="229.50" stroke="#222" stroke-width="0.8" />
<line x1="448.80" y1="273.50" x2="448.80" y2="279.50" stroke="#222" stroke-width="0.8" />
<text x="451.40" y="251.50" font-size="7.1" text-anchor="middle" font-weight="normal" fill="#333333" transform="rotate(-90 451.40 251.50)" >41.4 &#177; 2.6 %</text>
<line x1="90.80" y1="378.30" x2="514.25" y2="378.30" stroke="#8c8c8c" stroke-width="1.7" />
<line x1="97.60" y1="377.50" x2="97.60" y2="532.75" stroke="#3a3a3a" stroke-width="1" />
<line x1="97.60" y1="532.75" x2="514.25" y2="532.75" stroke="#3a3a3a" stroke-width="1" />
<line x1="514.25" y1="377.50" x2="514.25" y2="532.75" stroke="#3a3a3a" stroke-width="1" />
<text x="85.80" y="383.30" font-size="9.6" text-anchor="end" font-weight="normal" fill="#333333" >-0.6</text>
<line x1="94.20" y1="396.90" x2="97.60" y2="396.90" stroke="#3a3a3a" stroke-width="1" />
<line x1="91.10" y1="416.30" x2="97.60" y2="416.30" stroke="#3a3a3a" stroke-width="1" />
<text x="85.80" y="422.10" font-size="9.6" text-anchor="end" font-weight="normal" fill="#333333" >-0.8</text>
<line x1="94.20" y1="435.70" x2="97.60" y2="435.70" stroke="#3a3a3a" stroke-width="1" />
<line x1="91.10" y1="455.10" x2="97.60" y2="455.10" stroke="#3a3a3a" stroke-width="1" />
<text x="85.80" y="460.90" font-size="9.6" text-anchor="end" font-weight="normal" fill="#333333" >-1.0</text>
<line x1="94.20" y1="474.50" x2="97.60" y2="474.50" stroke="#3a3a3a" stroke-width="1" />
<line x1="91.10" y1="493.90" x2="97.60" y2="493.90" stroke="#3a3a3a" stroke-width="1" />
<text x="85.80" y="499.70" font-size="9.6" text-anchor="end" font-weight="normal" fill="#333333" >-1.2</text>
<line x1="94.20" y1="513.30" x2="97.60" y2="513.30" stroke="#3a3a3a" stroke-width="1" />
<line x1="91.10" y1="532.70" x2="97.60" y2="532.70" stroke="#3a3a3a" stroke-width="1" />
<text x="85.80" y="538.50" font-size="9.6" text-anchor="end" font-weight="normal" fill="#333333" >-1.4</text>
<line x1="510.85" y1="532.75" x2="514.25" y2="532.75" stroke="#3a3a3a" stroke-width="1" />
<text x="518.25" y="536.15" font-size="9.5" text-anchor="start" font-weight="normal" fill="#333333" >0</text>
<line x1="512.25" y1="517.23" x2="514.25" y2="517.23" stroke="#3a3a3a" stroke-width="1" />
<line x1="510.85" y1="501.70" x2="514.25" y2="501.70" stroke="#3a3a3a" stroke-width="1" />
<text x="518.25" y="505.10" font-size="9.5" text-anchor="start" font-weight="normal" fill="#333333" >20</text>
<line x1="512.25" y1="486.18" x2="514.25" y2="486.18" stroke="#3a3a3a" stroke-width="1" />
<line x1="510.85" y1="470.65" x2="514.25" y2="470.65" stroke="#3a3a3a" stroke-width="1" />
<text x="518.25" y="474.05" font-size="9.5" text-anchor="start" font-weight="normal" fill="#333333" >40</text>
<line x1="512.25" y1="455.12" x2="514.25" y2="455.12" stroke="#3a3a3a" stroke-width="1" />
<line x1="510.85" y1="439.60" x2="514.25" y2="439.60" stroke="#3a3a3a" stroke-width="1" />
<text x="518.25" y="443.00" font-size="9.5" text-anchor="start" font-weight="normal" fill="#333333" >60</text>
<line x1="512.25" y1="424.07" x2="514.25" y2="424.07" stroke="#3a3a3a" stroke-width="1" />
<line x1="510.85" y1="408.55" x2="514.25" y2="408.55" stroke="#3a3a3a" stroke-width="1" />
<text x="518.25" y="411.95" font-size="9.5" text-anchor="start" font-weight="normal" fill="#333333" >80</text>
<line x1="512.25" y1="393.02" x2="514.25" y2="393.02" stroke="#3a3a3a" stroke-width="1" />
<line x1="510.85" y1="377.50" x2="514.25" y2="377.50" stroke="#3a3a3a" stroke-width="1" />
<text x="518.25" y="380.90" font-size="9.5" text-anchor="start" font-weight="normal" fill="#333333" >100</text>
<line x1="97.60" y1="532.75" x2="97.60" y2="538.55" stroke="#3a3a3a" stroke-width="1" />
<text x="96.20" y="551.15" font-size="9.5" text-anchor="middle" font-weight="normal" fill="#333333" >0</text>
<line x1="136.62" y1="532.25" x2="136.62" y2="534.95" stroke="#3a3a3a" stroke-width="1" />
<line x1="175.64" y1="532.75" x2="175.64" y2="538.55" stroke="#3a3a3a" stroke-width="1" />
<text x="173.64" y="551.15" font-size="9.5" text-anchor="middle" font-weight="normal" fill="#333333" >30</text>
<line x1="214.67" y1="532.25" x2="214.67" y2="534.95" stroke="#3a3a3a" stroke-width="1" />
<line x1="253.69" y1="532.75" x2="253.69" y2="538.55" stroke="#3a3a3a" stroke-width="1" />
<text x="251.69" y="551.15" font-size="9.5" text-anchor="middle" font-weight="normal" fill="#333333" >60</text>
<line x1="292.71" y1="532.25" x2="292.71" y2="534.95" stroke="#3a3a3a" stroke-width="1" />
<line x1="331.74" y1="532.75" x2="331.74" y2="538.55" stroke="#3a3a3a" stroke-width="1" />
<text x="329.74" y="551.15" font-size="9.5" text-anchor="middle" font-weight="normal" fill="#333333" >90</text>
<line x1="370.76" y1="532.25" x2="370.76" y2="534.95" stroke="#3a3a3a" stroke-width="1" />
<line x1="409.78" y1="532.75" x2="409.78" y2="538.55" stroke="#3a3a3a" stroke-width="1" />
<text x="407.78" y="551.15" font-size="9.5" text-anchor="middle" font-weight="normal" fill="#333333" >120</text>
<line x1="448.80" y1="532.25" x2="448.80" y2="534.95" stroke="#3a3a3a" stroke-width="1" />
<line x1="487.83" y1="532.75" x2="487.83" y2="538.55" stroke="#3a3a3a" stroke-width="1" />
<text x="485.83" y="551.15" font-size="9.5" text-anchor="middle" font-weight="normal" fill="#333333" >150</text>
<text x="295.00" y="563.30" font-size="9.8" text-anchor="middle" font-weight="normal" fill="#333333" >Time (h)</text>
<text x="63.30" y="460.70" font-size="9.7" text-anchor="middle" font-weight="normal" fill="#333333" transform="rotate(-90 63.30 460.70)" >E (V vs RHE)</text>
<text x="549.20" y="456.00" font-size="9.85" text-anchor="middle" font-weight="normal" fill="#333333" transform="rotate(-90 549.20 456.00)" >C<tspan dy="2" font-size="62%">2</tspan><tspan dy="-2">H</tspan><tspan dy="2" font-size="62%">4</tspan><tspan dy="-2"> Faradic efficiency (%)</tspan></text>
<text x="56.70" y="376.90" font-size="12" text-anchor="start" font-weight="bold" fill="#111" >f</text>
<path d="M97.6,472.0 L97.8,471.4 L98.0,473.1 L98.3,471.2 L98.5,472.7 L98.7,472.2 L98.9,471.1 L99.1,472.7 L99.4,471.1 L99.6,472.4 L99.8,471.2 L100.0,471.2 L100.3,472.4 L100.5,473.8 L100.7,471.4 L100.9,471.7 L101.1,473.1 L101.4,474.2 L101.6,472.9 L101.8,472.3 L102.0,474.3 L102.2,471.1 L102.5,473.9 L102.7,472.0 L102.9,471.5 L103.1,471.4 L103.3,472.0 L103.6,473.8 L103.8,471.6 L104.0,473.0 L104.2,473.2 L104.5,472.3 L104.7,472.9 L104.9,471.2 L105.1,471.2 L105.3,471.7 L105.6,473.3 L105.8,472.5 L106.0,472.1 L106.2,473.0 L106.4,472.6 L106.7,472.1 L106.9,473.8 L107.1,473.4 L107.3,471.9 L107.6,473.0 L107.8,472.9 L108.0,474.0 L108.2,473.6 L108.4,472.1 L108.7,474.4 L108.9,471.5 L109.1,472.5 L109.3,473.7 L109.5,471.6 L109.8,472.8 L110.0,471.2 L110.2,473.4 L110.4,473.7 L110.6,473.1 L110.9,474.1 L111.1,472.2 L111.3,473.5 L111.5,473.1 L111.8,473.1 L112.0,472.7 L112.2,474.0 L112.4,474.3 L112.6,472.8 L112.9,473.4 L113.1,471.4 L113.3,473.5 L113.5,473.4 L113.7,474.5 L114.0,474.0 L114.2,472.1 L114.4,472.5 L114.6,473.4 L114.8,471.2 L115.1,472.7 L115.3,471.7 L115.5,471.6 L115.7,471.4 L116.0,473.8 L116.2,471.6 L116.4,472.0 L116.6,472.5 L116.8,474.2 L117.1,471.5 L117.3,472.7 L117.5,473.1 L117.7,474.2 L117.9,474.0 L118.2,474.1 L118.4,472.2 L118.6,472.6 L118.8,472.4 L119.0,474.2 L119.3,474.5 L119.5,471.7 L119.7,471.8 L119.9,472.0 L120.2,472.0 L120.4,472.9 L120.6,473.2 L120.8,472.1 L121.0,471.3 L121.3,472.7 L121.5,472.5 L121.7,473.2 L121.9,474.5 L122.1,473.6 L122.4,473.0 L122.6,473.4 L122.8,473.6 L123.0,471.4 L123.3,474.3 L123.5,473.9 L123.7,474.2 L123.9,474.0 L124.1,472.6 L124.4,472.6 L124.6,471.6 L124.8,473.4 L125.0,471.5 L125.2,471.5 L125.5,472.0 L125.7,471.8 L125.9,472.4 L126.1,471.5 L126.3,471.3 L126.6,471.8 L126.8,471.6 L127.0,472.5 L127.2,471.4 L127.5,474.3 L127.7,473.4 L127.9,471.8 L128.1,472.1 L128.3,472.5 L128.6,472.5 L128.8,471.7 L129.0,474.2 L129.2,474.7 L129.4,472.9 L129.7,472.9 L129.9,471.6 L130.1,471.6 L130.3,472.5 L130.5,472.2 L130.8,474.1 L131.0,471.8 L131.2,471.4 L131.4,474.5 L131.7,473.1 L131.9,471.8 L132.1,473.1 L132.3,471.4 L132.5,473.1 L132.8,474.6 L133.0,474.2 L133.2,473.7 L133.4,472.2 L133.6,472.5 L133.9,471.9 L134.1,473.9 L134.3,473.1 L134.5,473.9 L134.7,472.4 L135.0,472.1 L135.2,474.1 L135.4,474.6 L135.6,474.2 L135.9,474.0 L136.1,474.1 L136.3,473.8 L136.5,472.1 L136.7,473.1 L137.0,472.5 L137.2,471.4 L137.4,471.4 L137.6,472.2 L137.8,472.2 L138.1,473.6 L138.3,474.5 L138.5,472.8 L138.7,474.5 L139.0,474.7 L139.2,474.5 L139.4,472.5 L139.6,472.0 L139.8,472.1 L140.1,472.0 L140.3,472.0 L140.5,473.4 L140.7,474.3 L140.9,474.1 L141.2,472.9 L141.4,473.5 L141.6,474.0 L141.8,471.6 L142.0,473.5 L142.3,474.4 L142.5,473.9 L142.7,473.8 L142.9,472.9 L143.2,471.9 L143.4,474.0 L143.6,472.4 L143.8,474.0 L144.0,474.6 L144.3,472.6 L144.5,472.6 L144.7,474.5 L144.9,473.7 L145.1,471.8 L145.4,471.7 L145.6,471.8 L145.8,474.3 L146.0,474.0 L146.2,471.7 L146.5,474.1 L146.7,474.6 L146.9,473.5 L147.1,472.4 L147.4,473.1 L147.6,471.7 L147.8,471.3 L148.0,474.5 L148.2,473.4 L148.5,473.0 L148.7,474.4 L148.9,472.7 L149.1,474.2 L149.3,474.0 L149.6,471.9 L149.8,472.1 L150.0,472.2 L150.2,472.0 L150.4,473.2 L150.7,472.1 L150.9,472.6 L151.1,471.6 L151.3,474.3 L151.6,472.4 L151.8,472.8 L152.0,473.2 L152.2,474.3 L152.4,472.6 L152.7,474.3 L152.9,472.9 L153.1,473.0 L153.3,473.0 L153.5,471.2 L153.8,472.7 L154.0,471.8 L154.2,471.2 L154.4,473.9 L154.7,471.7 L154.9,472.8 L155.1,473.6 L155.3,473.0 L155.5,472.3 L155.8,472.9 L156.0,473.0 L156.2,473.8 L156.4,471.5 L156.6,473.0 L156.9,472.0 L157.1,472.1 L157.3,473.7 L157.5,472.8 L157.7,473.0 L158.0,473.7 L158.2,474.2 L158.4,472.6 L158.6,473.2 L158.9,472.8 L159.1,472.8 L159.3,473.4 L159.5,472.6 L159.7,472.9 L160.0,472.7 L160.2,474.3 L160.4,473.5 L160.6,474.1 L160.8,474.3 L161.1,471.9 L161.3,473.0 L161.5,474.3 L161.7,473.9 L161.9,471.5 L162.2,471.5 L162.4,472.5 L162.6,471.3 L162.8,471.9 L163.1,471.3 L163.3,473.3 L163.5,473.7 L163.7,474.1 L163.9,471.5 L164.2,473.5 L164.4,473.3 L164.6,471.5 L164.8,474.0 L165.0,474.3 L165.3,471.7 L165.5,474.2 L165.7,472.3 L165.9,472.6 L166.1,474.4 L166.4,473.8 L166.6,471.5 L166.8,472.4 L167.0,472.7 L167.3,472.1 L167.5,471.6 L167.7,472.0 L167.9,473.4 L168.1,471.0 L168.4,472.8 L168.6,472.4 L168.8,471.0 L169.0,472.1 L169.2,473.1 L169.5,472.7 L169.7,471.1 L169.9,474.3 L170.1,473.6 L170.4,474.2 L170.6,471.3 L170.8,471.8 L171.0,471.0 L171.2,473.5 L171.5,471.8 L171.7,471.3 L171.9,472.3 L172.1,474.0 L172.3,473.7 L172.6,471.8 L172.8,471.4 L173.0,474.0 L173.2,472.8 L173.4,473.2 L173.7,471.2 L173.9,471.0 L174.1,473.2 L174.3,472.3 L174.6,471.1 L174.8,474.0 L175.0,473.0 L175.2,473.6 L175.4,471.1 L175.7,473.7 L175.9,471.0 L176.1,473.7 L176.3,472.4 L176.5,472.0 L176.8,472.7 L177.0,474.0 L177.2,471.7 L177.4,471.2 L177.6,472.6 L177.9,471.6 L178.1,471.2 L178.3,471.3 L178.5,470.9 L178.8,471.5 L179.0,471.8 L179.2,471.8 L179.4,473.3 L179.6,471.7 L179.9,472.5 L180.1,471.4 L180.3,471.9 L180.5,470.8 L180.7,471.6 L181.0,470.8 L181.2,473.2 L181.4,472.6 L181.6,471.4 L181.8,472.3 L182.1,473.9 L182.3,471.1 L182.5,473.5 L182.7,472.2 L183.0,472.4 L183.2,473.5 L183.4,472.0 L183.6,472.4 L183.8,473.0 L184.1,474.0 L184.3,471.9 L184.5,473.5 L184.7,473.1 L184.9,472.8 L185.2,472.1 L185.4,471.9 L185.6,470.9 L185.8,471.1 L186.1,470.9 L186.3,473.2 L186.5,471.5 L186.7,471.2 L186.9,470.9 L187.2,473.5 L187.4,473.6 L187.6,472.9 L187.8,471.6 L188.0,471.5 L188.3,471.6 L188.5,472.2 L188.7,471.2 L188.9,472.1 L189.1,471.5 L189.4,473.9 L189.6,473.9 L189.8,472.5 L190.0,471.4 L190.3,473.9 L190.5,471.7 L190.7,471.8 L190.9,470.6 L191.1,471.9 L191.4,472.2 L191.6,472.3 L191.8,471.3 L192.0,472.3 L192.2,470.6 L192.5,471.5 L192.7,470.9 L192.9,471.9 L193.1,470.7 L193.3,470.7 L193.6,471.6 L193.8,471.4 L194.0,472.6 L194.2,472.4 L194.5,473.1 L194.7,472.8 L194.9,473.0 L195.1,473.5 L195.3,471.9 L195.6,471.7 L195.8,473.9 L196.0,471.1 L196.2,473.0 L196.4,472.7 L196.7,470.7 L196.9,473.4 L197.1,473.6 L197.3,472.7 L197.5,473.0 L197.8,473.3 L198.0,471.0 L198.2,472.3 L198.4,472.2 L198.7,473.4 L198.9,473.3 L199.1,473.3 L199.3,472.5 L199.5,473.6 L199.8,472.8 L200.0,472.9 L200.2,471.3 L200.4,470.6 L200.6,471.0 L200.9,471.7 L201.1,470.9 L201.3,473.4 L201.5,472.4 L201.8,472.6 L202.0,472.6 L202.2,472.8 L202.4,472.2 L202.6,470.5 L202.9,473.2 L203.1,473.1 L203.3,472.2 L203.5,472.3 L203.7,472.7 L204.0,470.7 L204.2,473.0 L204.4,471.4 L204.6,470.8 L204.8,471.4 L205.1,473.0 L205.3,471.2 L205.5,473.0 L205.7,473.8 L206.0,472.2 L206.2,471.8 L206.4,472.1 L206.6,472.8 L206.8,473.1 L207.1,472.6 L207.3,472.7 L207.5,470.8 L207.7,471.0 L207.9,471.4 L208.2,473.0 L208.4,471.5 L208.6,472.4 L208.8,470.5 L209.0,470.7 L209.3,471.4 L209.5,472.8 L209.7,472.9 L209.9,472.8 L210.2,471.5 L210.4,472.3 L210.6,472.1 L210.8,472.1 L211.0,470.9 L211.3,473.5 L211.5,471.2 L211.7,473.8 L211.9,473.7 L212.1,470.6 L212.4,472.1 L212.6,473.3 L212.8,473.8 L213.0,472.0 L213.2,471.4 L213.5,471.2 L213.7,473.7 L213.9,471.2 L214.1,472.5 L214.4,471.0 L214.6,472.3 L214.8,473.8 L215.0,471.0 L215.2,473.3 L215.5,472.3 L215.7,473.5 L215.9,472.9 L216.1,471.3 L216.3,473.6 L216.6,472.2 L216.8,470.6 L217.0,470.5 L217.2,472.2 L217.5,472.1 L217.7,471.6 L217.9,471.0 L218.1,471.7 L218.3,471.6 L218.6,473.4 L218.8,470.5 L219.0,473.1 L219.2,473.4 L219.4,471.0 L219.7,473.7 L219.9,473.0 L220.1,473.6 L220.3,471.5 L220.5,471.8 L220.8,471.9 L221.0,474.0 L221.2,472.6 L221.4,471.8 L221.7,472.0 L221.9,471.5 L222.1,470.7 L222.3,470.9 L222.5,473.4 L222.8,471.5 L223.0,473.8 L223.2,471.4 L223.4,471.5 L223.6,472.3 L223.9,471.2 L224.1,471.9 L224.3,473.8 L224.5,473.6 L224.7,473.4 L225.0,472.7 L225.2,473.7 L225.4,473.8 L225.6,472.5 L225.9,473.1 L226.1,470.8 L226.3,473.1 L226.5,472.2 L226.7,473.2 L227.0,472.8 L227.2,471.6 L227.4,470.8 L227.6,473.8 L227.8,471.1 L228.1,472.2 L228.3,471.8 L228.5,471.7 L228.7,473.2 L228.9,474.0 L229.2,471.5 L229.4,472.9 L229.6,471.7 L229.8,472.6 L230.1,472.0 L230.3,471.2 L230.5,471.2 L230.7,471.4 L230.9,473.8 L231.2,472.4 L231.4,471.4 L231.6,473.8 L231.8,474.1 L232.0,472.2 L232.3,471.2 L232.5,471.4 L232.7,471.0 L232.9,471.9 L233.2,471.0 L233.4,471.5 L233.6,471.6 L233.8,472.7 L234.0,473.7 L234.3,473.3 L234.5,472.1 L234.7,472.1 L234.9,472.5 L235.1,472.0 L235.4,471.9 L235.6,471.0 L235.8,471.7 L236.0,474.0 L236.2,471.2 L236.5,472.5 L236.7,472.9 L236.9,473.7 L237.1,471.5 L237.4,471.7 L237.6,471.6 L237.8,472.1 L238.0,472.3 L238.2,474.0 L238.5,473.7 L238.7,473.8 L238.9,470.9 L239.1,470.9 L239.3,473.2 L239.6,473.9 L239.8,472.4 L240.0,472.8 L240.2,470.8 L240.4,472.2 L240.7,474.0 L240.9,473.6 L241.1,473.7 L241.3,474.1 L241.6,471.7 L241.8,471.2 L242.0,471.4 L242.2,472.6 L242.4,473.2 L242.7,474.1 L242.9,473.3 L243.1,473.1 L243.3,473.5 L243.5,472.4 L243.8,472.8 L244.0,471.0 L244.2,473.6 L244.4,471.7 L244.6,474.0 L244.9,473.1 L245.1,471.9 L245.3,471.3 L245.5,471.8 L245.8,473.1 L246.0,473.3 L246.2,471.3 L246.4,471.2 L246.6,472.7 L246.9,472.9 L247.1,472.3 L247.3,471.7 L247.5,473.0 L247.7,471.0 L248.0,472.0 L248.2,472.5 L248.4,474.2 L248.6,473.2 L248.9,474.0 L249.1,472.6 L249.3,471.8 L249.5,471.8 L249.7,474.3 L250.0,473.4 L250.2,472.0 L250.4,471.1 L250.6,472.7 L250.8,473.3 L251.1,472.4 L251.3,471.9 L251.5,473.3 L251.7,474.2 L251.9,471.8 L252.2,471.1 L252.4,472.2 L252.6,472.5 L252.8,479.6 L253.1,477.5 L253.3,479.2 L253.5,478.6 L253.7,477.5 L253.9,476.2 L254.2,478.5 L254.4,476.0 L254.6,477.5 L254.8,475.2 L255.0,475.0 L255.3,476.6 L255.5,474.9 L255.7,476.9 L255.9,475.2 L256.1,474.0 L256.4,474.0 L256.6,474.5 L256.8,475.2 L257.0,476.1 L257.3,473.2 L257.5,474.0 L257.7,473.3 L257.9,475.8 L258.1,472.9 L258.4,472.5 L258.6,472.4 L258.8,473.5 L259.0,475.1 L259.2,475.0 L259.5,474.5 L259.7,475.3 L259.9,475.0 L260.1,472.9 L260.3,472.4 L260.6,474.9 L260.8,474.2 L261.0,471.7 L261.2,473.8 L261.5,472.8 L261.7,472.8 L261.9,472.6 L262.1,472.0 L262.3,471.4 L262.6,472.3 L262.8,472.5 L263.0,474.6 L263.2,471.7 L263.4,474.5 L263.7,471.9 L263.9,472.4 L264.1,474.0 L264.3,473.9 L264.6,472.6 L264.8,471.3 L265.0,472.7 L265.2,472.3 L265.4,474.2 L265.7,471.7 L265.9,472.2 L266.1,474.0 L266.3,471.1 L266.5,472.3 L266.8,473.7 L267.0,473.5 L267.2,471.0 L267.4,471.0 L267.6,471.1 L267.9,474.0 L268.1,471.7 L268.3,473.3 L268.5,473.8 L268.8,471.9 L269.0,471.7 L269.2,474.0 L269.4,472.8 L269.6,471.6 L269.9,473.1 L270.1,471.7 L270.3,471.6 L270.5,470.6 L270.7,473.2 L271.0,473.7 L271.2,472.7 L271.4,473.8 L271.6,470.6 L271.8,471.3 L272.1,472.2 L272.3,473.8 L272.5,473.8 L272.7,471.8 L273.0,471.3 L273.2,471.9 L273.4,472.1 L273.6,473.6 L273.8,471.0 L274.1,473.1 L274.3,472.9 L274.5,473.2 L274.7,473.0 L274.9,472.4 L275.2,471.5 L275.4,471.4 L275.6,471.6 L275.8,473.0 L276.0,470.6 L276.3,471.0 L276.5,472.8 L276.7,471.1 L276.9,470.5 L277.2,470.4 L277.4,472.1 L277.6,471.3 L277.8,473.5 L278.0,473.2 L278.3,473.5 L278.5,471.1 L278.7,470.4 L278.9,470.5 L279.1,471.8 L279.4,472.5 L279.6,471.6 L279.8,470.9 L280.0,471.5 L280.3,472.2 L280.5,472.4 L280.7,472.6 L280.9,472.9 L281.1,472.3 L281.4,470.4 L281.6,472.9 L281.8,471.0 L282.0,471.9 L282.2,471.3 L282.5,472.5 L282.7,470.6 L282.9,470.8 L283.1,470.8 L283.3,470.5 L283.6,472.9 L283.8,471.9 L284.0,471.0 L284.2,471.2 L284.5,473.3 L284.7,471.6 L284.9,470.7 L285.1,472.6 L285.3,472.1 L285.6,473.2 L285.8,470.2 L286.0,471.4 L286.2,472.6 L286.4,472.7 L286.7,472.9 L286.9,469.9 L287.1,470.8 L287.3,470.2 L287.5,470.4 L287.8,473.1 L288.0,471.7 L288.2,472.9 L288.4,471.0 L288.7,472.7 L288.9,471.2 L289.1,470.6 L289.3,472.3 L289.5,472.9 L289.8,470.0 L290.0,471.7 L290.2,471.8 L290.4,470.4 L290.6,470.9 L290.9,470.1 L291.1,470.3 L291.3,470.5 L291.5,471.6 L291.7,471.8 L292.0,470.3 L292.2,469.6 L292.4,470.7 L292.6,471.9 L292.9,470.2 L293.1,470.6 L293.3,470.2 L293.5,472.2 L293.7,471.4 L294.0,469.7 L294.2,469.9 L294.4,470.9 L294.6,471.4 L294.8,471.7 L295.1,469.8 L295.3,470.0 L295.5,471.8 L295.7,470.9 L296.0,470.4 L296.2,470.5 L296.4,472.7 L296.6,470.5 L296.8,471.4 L297.1,470.6 L297.3,470.8 L297.5,472.3 L297.7,472.8 L297.9,470.6 L298.2,470.1 L298.4,471.9 L298.6,470.1 L298.8,469.4 L299.0,472.4 L299.3,470.8 L299.5,472.1 L299.7,470.7 L299.9,472.3 L300.2,470.9 L300.4,469.9 L300.6,469.4 L300.8,471.2 L301.0,471.5 L301.3,472.4 L301.5,469.6 L301.7,471.4 L301.9,470.5 L302.1,471.0 L302.4,469.8 L302.6,470.2 L302.8,471.0 L303.0,472.4 L303.2,469.6 L303.5,470.9 L303.7,472.0 L303.9,472.5 L304.1,469.9 L304.4,469.6 L304.6,472.4 L304.8,472.5 L305.0,470.8 L305.2,469.4 L305.5,472.3 L305.7,470.5 L305.9,472.3 L306.1,471.3 L306.3,472.0 L306.6,469.7 L306.8,471.8 L307.0,469.9 L307.2,470.5 L307.4,472.0 L307.7,472.0 L307.9,469.8 L308.1,469.9 L308.3,470.5 L308.6,470.9 L308.8,470.4 L309.0,469.5 L309.2,469.9 L309.4,471.6 L309.7,472.1 L309.9,469.2 L310.1,471.0 L310.3,471.7 L310.5,469.2 L310.8,471.9 L311.0,469.5 L311.2,471.1 L311.4,470.9 L311.7,471.2 L311.9,470.1 L312.1,470.5 L312.3,471.0 L312.5,470.5 L312.8,471.3 L313.0,470.5 L313.2,470.5 L313.4,469.1 L313.6,471.1 L313.9,470.7 L314.1,469.8 L314.3,471.6 L314.5,471.6 L314.7,470.5 L315.0,469.6 L315.2,470.6 L315.4,469.3 L315.6,469.4 L315.9,470.4 L316.1,469.3 L316.3,470.5 L316.5,470.7 L316.7,469.1 L317.0,471.1 L317.2,469.2 L317.4,471.4 L317.6,471.6 L317.8,470.7 L318.1,469.1 L318.3,470.6 L318.5,470.2 L318.7,472.2 L318.9,469.4 L319.2,471.8 L319.4,472.3 L319.6,471.4 L319.8,471.7 L320.1,469.6 L320.3,472.2 L320.5,470.6 L320.7,472.1 L320.9,472.0 L321.2,469.4 L321.4,471.6 L321.6,472.0 L321.8,469.1 L322.0,470.1 L322.3,471.4 L322.5,469.4 L322.7,471.9 L322.9,469.8 L323.2,471.6 L323.4,469.3 L323.6,470.5 L323.8,472.0 L324.0,469.5 L324.3,469.7 L324.5,470.5 L324.7,469.9 L324.9,468.9 L325.1,469.4 L325.4,469.4 L325.6,472.0 L325.8,471.1 L326.0,471.9 L326.2,469.4 L326.5,471.5 L326.7,469.2 L326.9,470.6 L327.1,471.0 L327.4,470.0 L327.6,471.8 L327.8,470.7 L328.0,470.8 L328.2,471.8 L328.5,469.1 L328.7,472.1 L328.9,470.9 L329.1,470.1 L329.3,471.5 L329.6,469.7 L329.8,472.1 L330.0,470.7 L330.2,470.0 L330.4,471.3 L330.7,470.2 L330.9,469.3 L331.1,471.3 L331.3,468.9 L331.6,471.5 L331.8,469.6 L332.0,470.9 L332.2,472.1 L332.4,470.7 L332.7,471.0 L332.9,469.8 L333.1,468.7 L333.3,468.8 L333.5,469.2 L333.8,470.8 L334.0,470.2 L334.2,470.4 L334.4,471.7 L334.6,469.1 L334.9,469.5 L335.1,470.9 L335.3,468.8 L335.5,468.7 L335.8,469.9 L336.0,469.0 L336.2,469.9 L336.4,469.4 L336.6,470.7 L336.9,470.7 L337.1,469.4 L337.3,470.8 L337.5,470.3 L337.7,469.1 L338.0,471.8 L338.2,469.5 L338.4,469.2 L338.6,469.0 L338.9,470.8 L339.1,471.6 L339.3,471.3 L339.5,470.0 L339.7,469.5 L340.0,468.7 L340.2,470.8 L340.4,470.6 L340.6,469.8 L340.8,470.8 L341.1,470.1 L341.3,471.8 L341.5,471.1 L341.7,469.5 L341.9,471.7 L342.2,468.8 L342.4,470.4 L342.6,470.0 L342.8,469.4 L343.1,468.8 L343.3,471.3 L343.5,468.7 L343.7,470.5 L343.9,471.8 L344.2,469.1 L344.4,469.3 L344.6,470.7 L344.8,470.3 L345.0,470.8 L345.3,471.4 L345.5,469.2 L345.7,469.6 L345.9,469.6 L346.1,468.8 L346.4,471.6 L346.6,471.3 L346.8,471.0 L347.0,468.6 L347.3,471.5 L347.5,471.1 L347.7,470.2 L347.9,471.1 L348.1,470.1 L348.4,469.3 L348.6,468.9 L348.8,469.4 L349.0,468.7 L349.2,469.7 L349.5,471.1 L349.7,470.9 L349.9,471.4 L350.1,471.0 L350.3,469.5 L350.6,470.4 L350.8,470.0 L351.0,471.2 L351.2,470.3 L351.5,469.5 L351.7,470.7 L351.9,471.8 L352.1,469.3 L352.3,471.5 L352.6,468.6 L352.8,469.4 L353.0,469.3 L353.2,471.1 L353.4,471.8 L353.7,471.1 L353.9,469.6 L354.1,471.5 L354.3,469.7 L354.6,469.3 L354.8,471.6 L355.0,470.7 L355.2,470.9 L355.4,470.8 L355.7,471.9 L355.9,470.1 L356.1,471.4 L356.3,470.9 L356.5,471.4 L356.8,470.0 L357.0,471.0 L357.2,470.5 L357.4,469.6 L357.6,469.2 L357.9,470.6 L358.1,468.8 L358.3,471.6 L358.5,469.0 L358.8,468.6 L359.0,468.9 L359.2,471.7 L359.4,469.7 L359.6,469.0 L359.9,468.6 L360.1,468.6 L360.3,470.9 L360.5,470.7 L360.7,470.9 L361.0,471.0 L361.2,468.7 L361.4,470.5 L361.6,469.7 L361.8,471.3 L362.1,471.3 L362.3,471.5 L362.5,468.7 L362.7,471.4 L363.0,471.6 L363.2,471.7 L363.4,468.8 L363.6,469.2 L363.8,468.9 L364.1,468.6 L364.3,471.4 L364.5,471.2 L364.7,470.6 L364.9,471.3 L365.2,470.6 L365.4,469.4 L365.6,468.8 L365.8,468.8 L366.0,471.0 L366.3,469.2 L366.5,469.6 L366.7,469.9 L366.9,468.5 L367.2,469.3 L367.4,469.4 L367.6,470.9 L367.8,469.7 L368.0,469.6 L368.3,471.7 L368.5,470.2 L368.7,471.4 L368.9,470.6 L369.1,468.6 L369.4,469.9 L369.6,469.9 L369.8,471.1 L370.0,469.6 L370.3,470.8 L370.5,470.3 L370.7,469.2 L370.9,471.4 L371.1,468.8 L371.4,471.2 L371.6,469.0 L371.8,468.4 L372.0,469.1 L372.2,471.0 L372.5,471.8 L372.7,468.5 L372.9,470.1 L373.1,470.1 L373.3,471.1 L373.6,469.1 L373.8,470.1 L374.0,469.6 L374.2,471.3 L374.5,469.3 L374.7,471.6 L374.9,469.4 L375.1,469.2 L375.3,470.8 L375.6,470.1 L375.8,468.8 L376.0,470.6 L376.2,468.7 L376.4,471.1 L376.7,470.8 L376.9,471.1 L377.1,470.6 L377.3,469.6 L377.5,469.8 L377.8,469.8 L378.0,471.4 L378.2,468.7 L378.4,471.4 L378.7,468.5 L378.9,469.1 L379.1,469.3 L379.3,471.5 L379.5,470.1 L379.8,469.7 L380.0,471.4 L380.2,469.2 L380.4,470.0 L380.6,470.2 L380.9,471.0 L381.1,471.0 L381.3,470.6 L381.5,469.6 L381.7,469.5 L382.0,468.9 L382.2,471.3 L382.4,470.7 L382.6,470.9 L382.9,469.0 L383.1,469.9 L383.3,471.0 L383.5,470.4 L383.7,468.8 L384.0,474.4 L384.2,475.7 L384.4,473.3 L384.6,473.1 L384.8,473.3 L385.1,474.6 L385.3,475.0 L385.5,472.6 L385.7,472.6 L386.0,472.8 L386.2,473.0 L386.4,473.7 L386.6,472.4 L386.8,472.9 L387.1,472.4 L387.3,475.0 L387.5,474.2 L387.7,472.0 L387.9,474.9 L388.2,471.9 L388.4,472.9 L388.6,474.9 L388.8,474.2 L389.0,474.0 L389.3,472.9 L389.5,472.1 L389.7,473.6 L389.9,471.7 L390.2,472.0 L390.4,472.6 L390.6,471.4 L390.8,472.6 L391.0,473.9 L391.3,473.6 L391.5,472.9 L391.7,473.3 L391.9,472.7 L392.1,471.6 L392.4,473.1 L392.6,472.4 L392.8,473.6 L393.0,474.1 L393.2,472.5 L393.5,472.9 L393.7,473.5 L393.9,472.4 L394.1,471.7 L394.4,473.3 L394.6,473.9 L394.8,473.5 L395.0,473.2 L395.2,473.7 L395.5,473.1 L395.7,472.9 L395.9,472.3 L396.1,471.8 L396.3,472.8 L396.6,471.0 L396.8,472.1 L397.0,473.3 L397.2,473.1 L397.4,472.7 L397.7,471.4 L397.9,472.0 L398.1,472.1 L398.3,472.6 L398.6,471.9 L398.8,472.8 L399.0,473.6 L399.2,471.1 L399.4,472.7 L399.7,473.1 L399.9,471.7 L400.1,472.1 L400.3,473.7 L400.5,470.5 L400.8,472.2 L401.0,470.9 L401.2,473.0 L401.4,473.5 L401.7,472.0 L401.9,470.6 L402.1,472.2 L402.3,472.1 L402.5,472.7 L402.8,471.9 L403.0,472.4 L403.2,473.0 L403.4,471.9 L403.6,471.5 L403.9,473.3 L404.1,470.8 L404.3,472.4 L404.5,471.4 L404.7,472.7 L405.0,470.5 L405.2,473.4 L405.4,471.2 L405.6,470.2 L405.9,470.9 L406.1,471.3 L406.3,470.0 L406.5,471.4 L406.7,471.4 L407.0,472.3 L407.2,471.1 L407.4,470.8 L407.6,470.7 L407.8,472.4 L408.1,473.1 L408.3,471.7 L408.5,470.6 L408.7,472.6 L408.9,471.2 L409.2,470.5 L409.4,470.2 L409.6,472.4 L409.8,472.5 L410.1,471.9 L410.3,471.4 L410.5,471.7 L410.7,470.5 L410.9,473.0 L411.2,470.9 L411.4,471.9 L411.6,472.5 L411.8,472.5 L412.0,471.3 L412.3,470.7 L412.5,471.5 L412.7,470.1 L412.9,472.5 L413.1,470.8 L413.4,472.5 L413.6,470.5 L413.8,470.9 L414.0,470.5 L414.3,471.0 L414.5,470.2 L414.7,469.6 L414.9,472.0 L415.1,470.5 L415.4,470.4 L415.6,470.6 L415.8,471.1 L416.0,471.0 L416.2,471.7 L416.5,471.7 L416.7,470.7 L416.9,472.6 L417.1,472.4 L417.4,469.7 L417.6,472.3 L417.8,472.5 L418.0,472.1 L418.2,469.9 L418.5,472.2 L418.7,471.6 L418.9,469.5 L419.1,469.4 L419.3,472.6 L419.6,471.6 L419.8,470.2 L420.0,469.7 L420.2,469.8 L420.4,470.1 L420.7,472.0 L420.9,470.5 L421.1,469.8 L421.3,472.4 L421.6,472.0 L421.8,469.9 L422.0,472.3 L422.2,471.4 L422.4,471.9 L422.7,471.6 L422.9,472.3 L423.1,472.0 L423.3,472.1 L423.5,469.9 L423.8,471.6 L424.0,471.1 L424.2,471.8 L424.4,470.7 L424.6,472.2 L424.9,471.1 L425.1,470.1 L425.3,470.0 L425.5,469.7 L425.8,470.9 L426.0,469.4 L426.2,470.8 L426.4,469.7 L426.6,470.8 L426.9,470.9 L427.1,471.0 L427.3,472.1 L427.5,469.2 L427.7,472.0 L428.0,470.7 L428.2,471.1 L428.4,471.4 L428.6,472.0 L428.8,470.4 L429.1,470.5 L429.3,472.4 L429.5,469.4 L429.7,471.3 L430.0,471.3 L430.2,469.2 L430.4,471.2 L430.6,471.4 L430.8,472.2 L431.1,470.2 L431.3,472.4 L431.5,470.8 L431.7,470.7 L431.9,472.1 L432.2,469.2 L432.4,471.5 L432.6,471.2 L432.8,470.2 L433.1,472.0 L433.3,470.3 L433.5,470.6 L433.7,470.8 L433.9,471.6 L434.2,469.7 L434.4,470.5 L434.6,470.4 L434.8,470.9 L435.0,471.8 L435.3,470.0 L435.5,471.8 L435.7,470.4 L435.9,470.7 L436.1,469.9 L436.4,470.7 L436.6,472.3 L436.8,471.2 L437.0,471.7 L437.3,470.1 L437.5,470.0 L437.7,470.0 L437.9,471.0 L438.1,471.1 L438.4,471.6 L438.6,469.1 L438.8,471.4 L439.0,472.0 L439.2,470.8 L439.5,469.1 L439.7,470.0 L439.9,468.9 L440.1,469.6 L440.3,472.1 L440.6,471.0 L440.8,471.2 L441.0,471.6 L441.2,472.0 L441.5,471.0 L441.7,471.0 L441.9,471.0 L442.1,471.3 L442.3,470.9 L442.6,471.2 L442.8,469.6 L443.0,471.2 L443.2,470.4 L443.4,471.5 L443.7,469.2 L443.9,469.5 L444.1,469.0 L444.3,471.5 L444.5,472.0 L444.8,471.1 L445.0,470.1 L445.2,471.7 L445.4,471.5 L445.7,470.8 L445.9,469.7 L446.1,469.9 L446.3,470.3 L446.5,469.9 L446.8,470.3 L447.0,471.0 L447.2,472.0 L447.4,469.0 L447.6,470.8 L447.9,469.0 L448.1,469.2 L448.3,471.6 L448.5,470.8 L448.8,471.9 L449.0,470.3 L449.2,468.9 L449.4,470.1 L449.6,470.8 L449.9,472.0 L450.1,472.1 L450.3,470.4 L450.5,470.2 L450.7,469.2 L451.0,471.0 L451.2,469.5 L451.4,469.3 L451.6,468.9 L451.8,468.8 L452.1,471.1 L452.3,469.2 L452.5,472.1 L452.7,469.1 L453.0,471.7 L453.2,469.2 L453.4,468.8 L453.6,471.2 L453.8,469.6 L454.1,471.3 L454.3,469.4 L454.5,468.9 L454.7,471.4 L454.9,471.2 L455.2,471.7 L455.4,471.3 L455.6,469.1 L455.8,470.9 L456.0,471.2 L456.3,470.3 L456.5,471.9 L456.7,469.6 L456.9,472.0 L457.2,471.2 L457.4,468.8 L457.6,468.8 L457.8,471.0 L458.0,471.5 L458.3,469.0 L458.5,469.8 L458.7,471.2 L458.9,469.3 L459.1,471.7 L459.4,470.4 L459.6,468.9 L459.8,470.0 L460.0,470.7 L460.2,470.2 L460.5,471.0 L460.7,469.2 L460.9,471.4 L461.1,470.0 L461.4,470.9 L461.6,470.9 L461.8,470.1 L462.0,470.0 L462.2,471.4 L462.5,471.9 L462.7,471.4 L462.9,470.6 L463.1,469.7 L463.3,468.9 L463.6,472.0 L463.8,471.1 L464.0,471.5 L464.2,469.8 L464.5,470.8 L464.7,472.0 L464.9,471.5 L465.1,470.8 L465.3,469.8 L465.6,470.2 L465.8,471.7 L466.0,470.0 L466.2,471.0 L466.4,470.8 L466.7,471.8 L466.9,471.4 L467.1,469.7 L467.3,468.7 L467.5,469.6 L467.8,470.1 L468.0,470.7 L468.2,471.5 L468.4,471.7 L468.7,468.8 L468.9,471.5 L469.1,471.5 L469.3,471.6 L469.5,470.6 L469.8,469.6 L470.0,471.6 L470.2,471.4 L470.4,471.0 L470.6,471.8 L470.9,469.9 L471.1,469.0 L471.3,470.6 L471.5,471.4 L471.7,469.4 L472.0,471.2 L472.2,471.9 L472.4,469.5 L472.6,470.7 L472.9,471.0 L473.1,470.3 L473.3,469.4 L473.5,469.5 L473.7,471.2 L474.0,471.4 L474.2,470.2 L474.4,469.0 L474.6,471.4 L474.8,471.3 L475.1,469.5 L475.3,470.6 L475.5,471.7 L475.7,471.7 L475.9,470.4 L476.2,470.3 L476.4,470.7 L476.6,469.3 L476.8,469.3 L477.1,469.3 L477.3,471.0 L477.5,469.9 L477.7,470.6 L477.9,470.0 L478.2,470.4 L478.4,469.2 L478.6,468.8 L478.8,472.1 L479.0,469.9 L479.3,469.0 L479.5,470.8 L479.7,471.3 L479.9,469.2 L480.2,470.7 L480.4,469.8 L480.6,470.4 L480.8,468.7 L481.0,468.8 L481.3,472.0 L481.5,471.6 L481.7,470.3 L481.9,470.6 L482.1,469.5 L482.4,471.3 L482.6,470.1 L482.8,471.9 L483.0,471.3 L483.2,471.4 L483.5,471.9 L483.7,469.5 L483.9,468.8 L484.1,469.3 L484.4,469.3 L484.6,468.9 L484.8,468.8 L485.0,470.5 L485.2,471.6 L485.5,470.2 L485.7,471.9 L485.9,471.7 L486.1,468.9 L486.3,470.7 L486.6,470.0 L486.8,469.1 L487.0,471.9 L487.2,469.5 L487.4,470.6 L487.7,470.8 L487.9,471.9 L488.1,470.9 L488.3,470.0 L488.6,470.2 L488.8,469.2 L489.0,471.9 L489.2,472.0 L489.4,469.4 L489.7,468.8 L489.9,469.5 L490.1,469.8 L490.3,471.7 L490.5,471.7 L490.8,471.5 L491.0,468.8 L491.2,471.3 L491.4,471.0 L491.6,470.8 L491.9,472.0 L492.1,468.8 L492.3,469.1 L492.5,471.2 L492.8,471.8 L493.0,470.9 L493.2,469.6 L493.4,470.6 L493.6,471.2 L493.9,469.0 L494.1,469.7 L494.3,469.5 L494.5,469.1 L494.7,470.3 L495.0,469.2 L495.2,469.4 L495.4,469.1 L495.6,470.9 L495.9,468.7 L496.1,471.1 L496.3,469.3 L496.5,468.8 L496.7,471.8 L497.0,469.4 L497.2,471.8 L497.4,471.6 L497.6,471.6 L497.8,469.1 L498.1,470.1 L498.3,469.0 L498.5,471.8 L498.7,471.5 L498.9,470.8 L499.2,470.2 L499.4,469.8 L499.6,471.4 L499.8,470.2 L500.1,470.8 L500.3,469.1 L500.5,469.4 L500.7,468.8 L500.9,471.1 L501.2,470.5 L501.4,469.1 L501.6,471.6 L501.8,469.5 L502.0,470.0 L502.3,469.2 L502.5,469.5 L502.7,471.5 L502.9,469.8 L503.1,469.2 L503.4,470.3 L503.6,469.7 L503.8,471.7 L504.0,469.0 L504.3,471.9 L504.5,468.8 L504.7,471.7 L504.9,470.9 L505.1,469.3 L505.4,470.2 L505.6,469.6 L505.8,469.5 L506.0,469.3 L506.2,469.9 L506.5,472.0 L506.7,472.0 L506.9,471.8 L507.1,469.0 L507.3,469.6 L507.6,471.7 L507.8,468.8 L508.0,471.1 L508.2,469.6 L508.5,471.9 L508.7,468.7 L508.9,471.4 L509.1,469.8 L509.3,469.1 L509.6,468.6 L509.8,471.4 L510.0,470.4 L510.2,469.2 L510.4,470.1 L510.7,471.7 L510.9,469.4 L511.1,470.6 L511.3,469.1 L511.6,469.2 L511.8,471.2 L512.0,471.0 L512.2,469.3 L512.4,468.9 L512.7,468.9 L512.9,470.7 L513.1,470.3 L513.3,469.5 L513.5,469.3 L513.8,470.7" fill="none" stroke="#0a0a0a" stroke-width="1.35" stroke-linejoin="round"/>
<line x1="257.59" y1="474.30" x2="257.59" y2="470.30" stroke="#555" stroke-width="0.6" />
<line x1="261.49" y1="473.23" x2="261.49" y2="470.23" stroke="#555" stroke-width="0.6" />
<line x1="269.30" y1="472.42" x2="269.30" y2="467.42" stroke="#555" stroke-width="0.6" />
<line x1="290.11" y1="471.36" x2="290.11" y2="465.36" stroke="#555" stroke-width="0.6" />
<line x1="303.12" y1="470.95" x2="303.12" y2="466.95" stroke="#555" stroke-width="0.6" />
<line x1="326.53" y1="470.50" x2="326.53" y2="465.50" stroke="#555" stroke-width="0.6" />
<line x1="334.34" y1="470.40" x2="334.34" y2="466.40" stroke="#555" stroke-width="0.6" />
<line x1="316.13" y1="470.67" x2="316.13" y2="473.67" stroke="#555" stroke-width="0.6" />
<line x1="322.63" y1="470.56" x2="322.63" y2="474.56" stroke="#555" stroke-width="0.6" />
<line x1="339.54" y1="470.35" x2="339.54" y2="477.35" stroke="#555" stroke-width="0.6" />
<line x1="347.34" y1="470.28" x2="347.34" y2="479.28" stroke="#555" stroke-width="0.6" />
<line x1="357.75" y1="470.21" x2="357.75" y2="474.21" stroke="#555" stroke-width="0.6" />
<line x1="365.55" y1="470.17" x2="365.55" y2="475.17" stroke="#555" stroke-width="0.6" />
<line x1="375.96" y1="470.13" x2="375.96" y2="476.13" stroke="#555" stroke-width="0.6" />
<line x1="391.05" y1="472.94" x2="391.05" y2="488.94" stroke="#555" stroke-width="0.6" />
<line x1="394.17" y1="472.61" x2="394.17" y2="480.61" stroke="#555" stroke-width="0.6" />
<line x1="399.37" y1="472.15" x2="399.37" y2="478.15" stroke="#555" stroke-width="0.6" />
<line x1="404.58" y1="471.78" x2="404.58" y2="479.78" stroke="#555" stroke-width="0.6" />
<line x1="409.78" y1="471.49" x2="409.78" y2="476.49" stroke="#555" stroke-width="0.6" />
<line x1="414.98" y1="471.25" x2="414.98" y2="478.25" stroke="#555" stroke-width="0.6" />
<line x1="422.79" y1="470.98" x2="422.79" y2="478.98" stroke="#555" stroke-width="0.6" />
<line x1="430.59" y1="470.79" x2="430.59" y2="480.79" stroke="#555" stroke-width="0.6" />
<line x1="438.40" y1="470.65" x2="438.40" y2="478.65" stroke="#555" stroke-width="0.6" />
<line x1="443.60" y1="470.58" x2="443.60" y2="479.58" stroke="#555" stroke-width="0.6" />
<line x1="447.50" y1="470.54" x2="447.50" y2="476.54" stroke="#555" stroke-width="0.6" />
<line x1="454.01" y1="470.48" x2="454.01" y2="478.48" stroke="#555" stroke-width="0.6" />
<line x1="461.81" y1="470.43" x2="461.81" y2="479.43" stroke="#555" stroke-width="0.6" />
<line x1="467.01" y1="470.40" x2="467.01" y2="476.40" stroke="#555" stroke-width="0.6" />
<line x1="474.82" y1="470.37" x2="474.82" y2="478.37" stroke="#555" stroke-width="0.6" />
<line x1="495.63" y1="470.33" x2="495.63" y2="479.33" stroke="#555" stroke-width="0.6" />
<line x1="506.04" y1="470.32" x2="506.04" y2="474.32" stroke="#555" stroke-width="0.6" />
<line x1="352.55" y1="470.24" x2="352.55" y2="473.24" stroke="#555" stroke-width="0.6" />
<line x1="487.83" y1="470.34" x2="487.83" y2="474.34" stroke="#555" stroke-width="0.6" />
<defs><radialGradient id="bg" cx="40%" cy="32%" r="70%"><stop offset="0" stop-color="#8fb0d2"/><stop offset="0.45" stop-color="#3f6c9e"/><stop offset="1" stop-color="#1f3d63"/></radialGradient></defs>
<polyline points="110.5,418.0 123.5,428.5 136.5,433.0 149.5,424.5 162.5,437.8 175.5,440.0 188.5,437.5 201.5,441.0 214.5,450.8 227.5,454.5 240.5,453.8 253.5,434.2 266.5,438.8 279.5,441.8 292.5,441.8 305.8,445.5 318.8,448.5 331.8,445.5 344.8,446.8 357.8,449.2 370.8,450.5 384.0,426.0 397.0,435.8 410.0,440.0 423.0,443.0 436.0,441.5 449.0,443.2 462.0,445.5 475.0,443.1 488.0,449.0 501.0,448.5 514.2,451.8" fill="none" stroke="#7a7a7a" stroke-width="1"/>
<ellipse cx="110.5" cy="418.3" rx="2.65" ry="2.3" fill="url(#bg)" stroke="#2a3f5a" stroke-width="0.5"/>
<ellipse cx="123.5" cy="428.8" rx="2.65" ry="2.3" fill="url(#bg)" stroke="#2a3f5a" stroke-width="0.5"/>
<ellipse cx="136.5" cy="433.3" rx="2.65" ry="2.3" fill="url(#bg)" stroke="#2a3f5a" stroke-width="0.5"/>
<ellipse cx="149.5" cy="424.8" rx="2.65" ry="2.3" fill="url(#bg)" stroke="#2a3f5a" stroke-width="0.5"/>
<ellipse cx="162.5" cy="438.1" rx="2.65" ry="2.3" fill="url(#bg)" stroke="#2a3f5a" stroke-width="0.5"/>
<ellipse cx="175.5" cy="440.3" rx="2.65" ry="2.3" fill="url(#bg)" stroke="#2a3f5a" stroke-width="0.5"/>
<ellipse cx="188.5" cy="437.8" rx="2.65" ry="2.3" fill="url(#bg)" stroke="#2a3f5a" stroke-width="0.5"/>
<ellipse cx="201.5" cy="441.3" rx="2.65" ry="2.3" fill="url(#bg)" stroke="#2a3f5a" stroke-width="0.5"/>
<ellipse cx="214.5" cy="451.1" rx="2.65" ry="2.3" fill="url(#bg)" stroke="#2a3f5a" stroke-width="0.5"/>
<ellipse cx="227.5" cy="454.8" rx="2.65" ry="2.3" fill="url(#bg)" stroke="#2a3f5a" stroke-width="0.5"/>
<ellipse cx="240.5" cy="454.1" rx="2.65" ry="2.3" fill="url(#bg)" stroke="#2a3f5a" stroke-width="0.5"/>
<ellipse cx="253.5" cy="434.6" rx="2.65" ry="2.3" fill="url(#bg)" stroke="#2a3f5a" stroke-width="0.5"/>
<ellipse cx="266.5" cy="439.1" rx="2.65" ry="2.3" fill="url(#bg)" stroke="#2a3f5a" stroke-width="0.5"/>
<ellipse cx="279.5" cy="442.1" rx="2.65" ry="2.3" fill="url(#bg)" stroke="#2a3f5a" stroke-width="0.5"/>
<ellipse cx="292.5" cy="442.1" rx="2.65" ry="2.3" fill="url(#bg)" stroke="#2a3f5a" stroke-width="0.5"/>
<ellipse cx="305.8" cy="445.8" rx="2.65" ry="2.3" fill="url(#bg)" stroke="#2a3f5a" stroke-width="0.5"/>
<ellipse cx="318.8" cy="448.8" rx="2.65" ry="2.3" fill="url(#bg)" stroke="#2a3f5a" stroke-width="0.5"/>
<ellipse cx="331.8" cy="445.8" rx="2.65" ry="2.3" fill="url(#bg)" stroke="#2a3f5a" stroke-width="0.5"/>
<ellipse cx="344.8" cy="447.1" rx="2.65" ry="2.3" fill="url(#bg)" stroke="#2a3f5a" stroke-width="0.5"/>
<ellipse cx="357.8" cy="449.6" rx="2.65" ry="2.3" fill="url(#bg)" stroke="#2a3f5a" stroke-width="0.5"/>
<ellipse cx="370.8" cy="450.8" rx="2.65" ry="2.3" fill="url(#bg)" stroke="#2a3f5a" stroke-width="0.5"/>
<ellipse cx="384.0" cy="426.3" rx="2.65" ry="2.3" fill="url(#bg)" stroke="#2a3f5a" stroke-width="0.5"/>
<ellipse cx="397.0" cy="436.1" rx="2.65" ry="2.3" fill="url(#bg)" stroke="#2a3f5a" stroke-width="0.5"/>
<ellipse cx="410.0" cy="440.3" rx="2.65" ry="2.3" fill="url(#bg)" stroke="#2a3f5a" stroke-width="0.5"/>
<ellipse cx="423.0" cy="443.3" rx="2.65" ry="2.3" fill="url(#bg)" stroke="#2a3f5a" stroke-width="0.5"/>
<ellipse cx="436.0" cy="441.8" rx="2.65" ry="2.3" fill="url(#bg)" stroke="#2a3f5a" stroke-width="0.5"/>
<ellipse cx="449.0" cy="443.6" rx="2.65" ry="2.3" fill="url(#bg)" stroke="#2a3f5a" stroke-width="0.5"/>
<ellipse cx="462.0" cy="445.8" rx="2.65" ry="2.3" fill="url(#bg)" stroke="#2a3f5a" stroke-width="0.5"/>
<ellipse cx="475.0" cy="443.4" rx="2.65" ry="2.3" fill="url(#bg)" stroke="#2a3f5a" stroke-width="0.5"/>
<ellipse cx="488.0" cy="449.3" rx="2.65" ry="2.3" fill="url(#bg)" stroke="#2a3f5a" stroke-width="0.5"/>
<ellipse cx="501.0" cy="448.8" rx="2.65" ry="2.3" fill="url(#bg)" stroke="#2a3f5a" stroke-width="0.5"/>
<ellipse cx="514.2" cy="452.1" rx="2.65" ry="2.3" fill="url(#bg)" stroke="#2a3f5a" stroke-width="0.5"/>
<defs><marker id="ah2" viewBox="0 0 10 10" refX="7" refY="5" markerWidth="8.5" markerHeight="8.5" orient="auto"><path d="M0,1.6 L10,5 L0,8.4 L2.2,5 z" fill="#1a1a1a"/></marker></defs>
<path d="M135.8,476.5 Q132,491 108.5,492.5" fill="none" stroke="#222" stroke-width="0.85" marker-end="url(#ah2)"/>
<path d="M468.8,440 Q472,415 500.5,412.2" fill="none" stroke="#222" stroke-width="0.85" marker-end="url(#ah2)"/>
<path d="M251.8,508.6 L251.8,487" fill="none" stroke="#222" stroke-width="0.7" marker-end="url(#ah)"/>
<path d="M383.4,504.9 L383.4,482.5" fill="none" stroke="#222" stroke-width="0.7" marker-end="url(#ah)"/>
<text x="247.80" y="518.50" font-size="5.7" text-anchor="middle" font-weight="normal" fill="#333333" >DDT Re-treatment</text>
<text x="391.00" y="519.20" font-size="5.7" text-anchor="middle" font-weight="normal" fill="#333333" >DDT Re-treatment</text>
</svg>
</body></html>
